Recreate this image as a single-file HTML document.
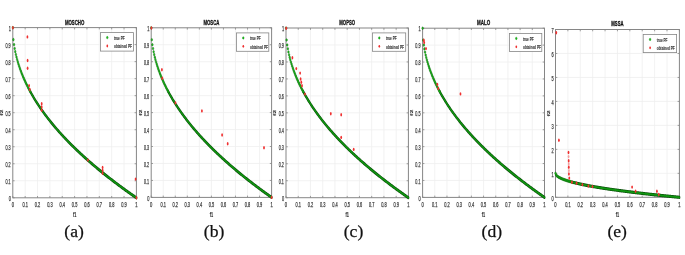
<!DOCTYPE html>
<html><head><meta charset="utf-8"><style>
html,body{margin:0;padding:0;background:#fff;width:685px;height:255px;overflow:hidden}
svg{position:absolute;left:0;top:0;will-change:transform}
svg text{font-family:"Liberation Sans",sans-serif;fill:#3a3a3a}
svg text.t{font-size:6.7px;font-weight:normal;stroke:#3a3a3a;stroke-width:0.25px}
svg text.ti{font-size:7.3px;font-weight:bold;fill:#111;stroke:#111;stroke-width:0.3px}
svg text.xl{font-size:7px;font-weight:bold;stroke:#3a3a3a;stroke-width:0.2px}
svg text.lg{font-size:6px;font-weight:bold;stroke:#3a3a3a;stroke-width:0.15px}
svg text.lab{font-family:"Liberation Serif",serif;font-size:17.6px;fill:#111;stroke:#111;stroke-width:0.25px}
</style></head><body>
<svg width="685" height="255" viewBox="0 0 685 255">
<line x1="25.16" y1="27.60" x2="25.16" y2="197.80" stroke="#efefef" stroke-width="0.8"/>
<line x1="37.52" y1="27.60" x2="37.52" y2="197.80" stroke="#efefef" stroke-width="0.8"/>
<line x1="49.88" y1="27.60" x2="49.88" y2="197.80" stroke="#efefef" stroke-width="0.8"/>
<line x1="62.24" y1="27.60" x2="62.24" y2="197.80" stroke="#efefef" stroke-width="0.8"/>
<line x1="74.60" y1="27.60" x2="74.60" y2="197.80" stroke="#efefef" stroke-width="0.8"/>
<line x1="86.96" y1="27.60" x2="86.96" y2="197.80" stroke="#efefef" stroke-width="0.8"/>
<line x1="99.32" y1="27.60" x2="99.32" y2="197.80" stroke="#efefef" stroke-width="0.8"/>
<line x1="111.68" y1="27.60" x2="111.68" y2="197.80" stroke="#efefef" stroke-width="0.8"/>
<line x1="124.04" y1="27.60" x2="124.04" y2="197.80" stroke="#efefef" stroke-width="0.8"/>
<line x1="12.80" y1="180.78" x2="136.40" y2="180.78" stroke="#efefef" stroke-width="0.8"/>
<line x1="12.80" y1="163.76" x2="136.40" y2="163.76" stroke="#efefef" stroke-width="0.8"/>
<line x1="12.80" y1="146.74" x2="136.40" y2="146.74" stroke="#efefef" stroke-width="0.8"/>
<line x1="12.80" y1="129.72" x2="136.40" y2="129.72" stroke="#efefef" stroke-width="0.8"/>
<line x1="12.80" y1="112.70" x2="136.40" y2="112.70" stroke="#efefef" stroke-width="0.8"/>
<line x1="12.80" y1="95.68" x2="136.40" y2="95.68" stroke="#efefef" stroke-width="0.8"/>
<line x1="12.80" y1="78.66" x2="136.40" y2="78.66" stroke="#efefef" stroke-width="0.8"/>
<line x1="12.80" y1="61.64" x2="136.40" y2="61.64" stroke="#efefef" stroke-width="0.8"/>
<line x1="12.80" y1="44.62" x2="136.40" y2="44.62" stroke="#efefef" stroke-width="0.8"/>
<rect x="12.80" y="27.60" width="123.60" height="170.20" fill="none" stroke="#868686" stroke-width="1"/>
<path d="M12.80 197.80V196.00M12.80 27.60V29.40M25.16 197.80V196.00M25.16 27.60V29.40M37.52 197.80V196.00M37.52 27.60V29.40M49.88 197.80V196.00M49.88 27.60V29.40M62.24 197.80V196.00M62.24 27.60V29.40M74.60 197.80V196.00M74.60 27.60V29.40M86.96 197.80V196.00M86.96 27.60V29.40M99.32 197.80V196.00M99.32 27.60V29.40M111.68 197.80V196.00M111.68 27.60V29.40M124.04 197.80V196.00M124.04 27.60V29.40M136.40 197.80V196.00M136.40 27.60V29.40M12.80 197.80H14.60M136.40 197.80H134.60M12.80 180.78H14.60M136.40 180.78H134.60M12.80 163.76H14.60M136.40 163.76H134.60M12.80 146.74H14.60M136.40 146.74H134.60M12.80 129.72H14.60M136.40 129.72H134.60M12.80 112.70H14.60M136.40 112.70H134.60M12.80 95.68H14.60M136.40 95.68H134.60M12.80 78.66H14.60M136.40 78.66H134.60M12.80 61.64H14.60M136.40 61.64H134.60M12.80 44.62H14.60M136.40 44.62H134.60M12.80 27.60H14.60M136.40 27.60H134.60" stroke="#868686" stroke-width="0.8" fill="none"/>
<g transform="scale(0.6,1)">
<polyline points="50.17,91.28 51.20,92.41 52.23,93.52 53.26,94.61 54.29,95.68 55.32,96.74 56.35,97.78 57.38,98.80 58.41,99.81 59.44,100.81 60.47,101.79 61.50,102.76 62.53,103.72 63.56,104.66 64.59,105.60 65.62,106.52 66.65,107.43 67.68,108.33 68.71,109.23 69.74,110.11 70.77,110.98 71.80,111.84 72.83,112.70 73.86,113.55 74.89,114.39 75.92,115.22 76.95,116.04 77.98,116.85 79.01,117.66 80.04,118.46 81.07,119.26 82.10,120.04 83.13,120.82 84.16,121.60 85.19,122.36 86.22,123.12 87.25,123.88 88.28,124.63 89.31,125.37 90.34,126.11 91.37,126.84 92.40,127.57 93.43,128.29 94.46,129.01 95.49,129.72 96.52,130.43 97.55,131.13 98.58,131.83 99.61,132.52 100.64,133.21 101.67,133.89 102.70,134.57 103.73,135.24 104.76,135.91 105.79,136.58 106.82,137.24 107.85,137.90 108.88,138.56 109.91,139.21 110.94,139.85 111.97,140.50 113.00,141.14 114.03,141.77 115.06,142.41 116.09,143.04 117.12,143.66 118.15,144.28 119.18,144.90 120.21,145.52 121.24,146.13 122.27,146.74 123.30,147.35 124.33,147.95 125.36,148.55 126.39,149.15 127.42,149.74 128.45,150.33 129.48,150.92 130.51,151.51 131.54,152.09 132.57,152.67 133.60,153.25 134.63,153.82 135.66,154.40 136.69,154.97 137.72,155.53 138.75,156.10 139.78,156.66 140.81,157.22 141.84,157.78 142.87,158.33 143.90,158.89 144.93,159.44 145.96,159.98 146.99,160.53 148.02,161.07 149.05,161.62 150.08,162.15 151.11,162.69 152.14,163.23 153.17,163.76 154.20,164.29 155.23,164.82 156.26,165.35 157.29,165.87 158.32,166.39 159.35,166.91 160.38,167.43 161.41,167.95 162.44,168.47 163.47,168.98 164.50,169.49 165.53,170.00 166.56,170.51 167.59,171.01 168.62,171.52 169.65,172.02 170.68,172.52 171.71,173.02 172.74,173.52 173.77,174.01 174.80,174.51 175.83,175.00 176.86,175.49 177.89,175.98 178.92,176.46 179.95,176.95 180.98,177.43 182.01,177.92 183.04,178.40 184.07,178.88 185.10,179.36 186.13,179.83 187.16,180.31 188.19,180.78 189.22,181.25 190.25,181.72 191.28,182.19 192.31,182.66 193.34,183.13 194.37,183.59 195.40,184.05 196.43,184.52 197.46,184.98 198.49,185.44 199.52,185.90 200.55,186.35 201.58,186.81 202.61,187.26 203.64,187.71 204.67,188.17 205.70,188.62 206.73,189.07 207.76,189.51 208.79,189.96 209.82,190.41 210.85,190.85 211.88,191.29 212.91,191.73 213.94,192.18 214.97,192.62 216.00,193.05 217.03,193.49 218.06,193.93 219.09,194.36 220.12,194.79 221.15,195.23 222.18,195.66 223.21,196.09 224.24,196.52 225.27,196.95 226.30,197.37 227.33,197.80" fill="none" stroke="#0a4e0a" stroke-width="3.2" stroke-linejoin="round" stroke-linecap="round"/>
<polyline points="50.17,91.28 51.20,92.41 52.23,93.52 53.26,94.61 54.29,95.68 55.32,96.74 56.35,97.78 57.38,98.80 58.41,99.81 59.44,100.81 60.47,101.79 61.50,102.76 62.53,103.72 63.56,104.66 64.59,105.60 65.62,106.52 66.65,107.43 67.68,108.33 68.71,109.23 69.74,110.11 70.77,110.98 71.80,111.84 72.83,112.70 73.86,113.55 74.89,114.39 75.92,115.22 76.95,116.04 77.98,116.85 79.01,117.66 80.04,118.46 81.07,119.26 82.10,120.04 83.13,120.82 84.16,121.60 85.19,122.36 86.22,123.12 87.25,123.88 88.28,124.63 89.31,125.37 90.34,126.11 91.37,126.84 92.40,127.57 93.43,128.29 94.46,129.01 95.49,129.72 96.52,130.43 97.55,131.13 98.58,131.83 99.61,132.52 100.64,133.21 101.67,133.89 102.70,134.57 103.73,135.24 104.76,135.91 105.79,136.58 106.82,137.24 107.85,137.90 108.88,138.56 109.91,139.21 110.94,139.85 111.97,140.50 113.00,141.14 114.03,141.77 115.06,142.41 116.09,143.04 117.12,143.66 118.15,144.28 119.18,144.90 120.21,145.52 121.24,146.13 122.27,146.74 123.30,147.35 124.33,147.95 125.36,148.55 126.39,149.15 127.42,149.74 128.45,150.33 129.48,150.92 130.51,151.51 131.54,152.09 132.57,152.67 133.60,153.25 134.63,153.82 135.66,154.40 136.69,154.97 137.72,155.53 138.75,156.10 139.78,156.66 140.81,157.22 141.84,157.78 142.87,158.33 143.90,158.89 144.93,159.44 145.96,159.98 146.99,160.53 148.02,161.07 149.05,161.62 150.08,162.15 151.11,162.69 152.14,163.23 153.17,163.76 154.20,164.29 155.23,164.82 156.26,165.35 157.29,165.87 158.32,166.39 159.35,166.91 160.38,167.43 161.41,167.95 162.44,168.47 163.47,168.98 164.50,169.49 165.53,170.00 166.56,170.51 167.59,171.01 168.62,171.52 169.65,172.02 170.68,172.52 171.71,173.02 172.74,173.52 173.77,174.01 174.80,174.51 175.83,175.00 176.86,175.49 177.89,175.98 178.92,176.46 179.95,176.95 180.98,177.43 182.01,177.92 183.04,178.40 184.07,178.88 185.10,179.36 186.13,179.83 187.16,180.31 188.19,180.78 189.22,181.25 190.25,181.72 191.28,182.19 192.31,182.66 193.34,183.13 194.37,183.59 195.40,184.05 196.43,184.52 197.46,184.98 198.49,185.44 199.52,185.90 200.55,186.35 201.58,186.81 202.61,187.26 203.64,187.71 204.67,188.17 205.70,188.62 206.73,189.07 207.76,189.51 208.79,189.96 209.82,190.41 210.85,190.85 211.88,191.29 212.91,191.73 213.94,192.18 214.97,192.62 216.00,193.05 217.03,193.49 218.06,193.93 219.09,194.36 220.12,194.79 221.15,195.23 222.18,195.66 223.21,196.09 224.24,196.52 225.27,196.95 226.30,197.37 227.33,197.80" fill="none" stroke="#109610" stroke-width="1.80" stroke-linejoin="round" stroke-linecap="round"/>
<circle cx="21.33" cy="27.60" r="1.30" fill="#1ccc1c" stroke="#0a500a" stroke-width="0.5"/>
<circle cx="22.36" cy="39.63" r="1.30" fill="#1ccc1c" stroke="#0a500a" stroke-width="0.5"/>
<circle cx="23.39" cy="44.62" r="1.30" fill="#1ccc1c" stroke="#0a500a" stroke-width="0.5"/>
<circle cx="24.42" cy="48.45" r="1.30" fill="#1ccc1c" stroke="#0a500a" stroke-width="0.5"/>
<circle cx="25.45" cy="51.67" r="1.30" fill="#1ccc1c" stroke="#0a500a" stroke-width="0.5"/>
<circle cx="26.48" cy="54.51" r="1.30" fill="#1ccc1c" stroke="#0a500a" stroke-width="0.5"/>
<circle cx="27.51" cy="57.08" r="1.30" fill="#1ccc1c" stroke="#0a500a" stroke-width="0.5"/>
<circle cx="28.54" cy="59.44" r="1.30" fill="#1ccc1c" stroke="#0a500a" stroke-width="0.5"/>
<circle cx="29.57" cy="61.64" r="1.30" fill="#1ccc1c" stroke="#0a500a" stroke-width="0.5"/>
<circle cx="30.60" cy="63.70" r="1.30" fill="#1ccc1c" stroke="#0a500a" stroke-width="0.5"/>
<circle cx="31.63" cy="65.66" r="1.30" fill="#1ccc1c" stroke="#0a500a" stroke-width="0.5"/>
<circle cx="32.66" cy="67.52" r="1.30" fill="#1ccc1c" stroke="#0a500a" stroke-width="0.5"/>
<circle cx="33.69" cy="69.29" r="1.30" fill="#1ccc1c" stroke="#0a500a" stroke-width="0.5"/>
<circle cx="34.72" cy="70.99" r="1.30" fill="#1ccc1c" stroke="#0a500a" stroke-width="0.5"/>
<circle cx="35.75" cy="72.63" r="1.30" fill="#1ccc1c" stroke="#0a500a" stroke-width="0.5"/>
<circle cx="36.78" cy="74.21" r="1.30" fill="#1ccc1c" stroke="#0a500a" stroke-width="0.5"/>
<circle cx="37.81" cy="75.74" r="1.30" fill="#1ccc1c" stroke="#0a500a" stroke-width="0.5"/>
<circle cx="38.84" cy="77.22" r="1.30" fill="#1ccc1c" stroke="#0a500a" stroke-width="0.5"/>
<circle cx="39.87" cy="78.66" r="1.30" fill="#1ccc1c" stroke="#0a500a" stroke-width="0.5"/>
<circle cx="40.90" cy="80.06" r="1.30" fill="#1ccc1c" stroke="#0a500a" stroke-width="0.5"/>
<circle cx="41.93" cy="81.42" r="1.30" fill="#1ccc1c" stroke="#0a500a" stroke-width="0.5"/>
<circle cx="42.96" cy="82.75" r="1.30" fill="#1ccc1c" stroke="#0a500a" stroke-width="0.5"/>
<circle cx="43.99" cy="84.05" r="1.30" fill="#1ccc1c" stroke="#0a500a" stroke-width="0.5"/>
<circle cx="45.02" cy="85.32" r="1.30" fill="#1ccc1c" stroke="#0a500a" stroke-width="0.5"/>
<circle cx="46.05" cy="86.56" r="1.30" fill="#1ccc1c" stroke="#0a500a" stroke-width="0.5"/>
<circle cx="47.08" cy="87.77" r="1.30" fill="#1ccc1c" stroke="#0a500a" stroke-width="0.5"/>
<circle cx="48.11" cy="88.97" r="1.30" fill="#1ccc1c" stroke="#0a500a" stroke-width="0.5"/>
<circle cx="49.14" cy="90.14" r="1.30" fill="#1ccc1c" stroke="#0a500a" stroke-width="0.5"/>
<circle cx="50.17" cy="91.28" r="1.30" fill="#1ccc1c" stroke="#0a500a" stroke-width="0.5"/>
</g>
<ellipse cx="12.90" cy="27.70" rx="0.9" ry="1.7" fill="#f03030" opacity="1"/>
<ellipse cx="27.40" cy="36.90" rx="0.9" ry="1.7" fill="#f03030" opacity="1"/>
<ellipse cx="27.60" cy="60.50" rx="0.9" ry="1.7" fill="#f03030" opacity="1"/>
<ellipse cx="27.60" cy="68.30" rx="0.9" ry="1.7" fill="#f03030" opacity="1"/>
<ellipse cx="29.10" cy="85.60" rx="0.9" ry="1.7" fill="#f03030" opacity="1"/>
<ellipse cx="29.80" cy="89.50" rx="0.9" ry="1.7" fill="#f03030" opacity="1"/>
<ellipse cx="41.70" cy="103.80" rx="0.9" ry="1.7" fill="#f03030" opacity="1"/>
<ellipse cx="41.70" cy="107.00" rx="0.9" ry="1.7" fill="#f03030" opacity="1"/>
<ellipse cx="41.70" cy="110.30" rx="0.9" ry="1.7" fill="#f03030" opacity="1"/>
<ellipse cx="87.90" cy="160.10" rx="0.9" ry="1.7" fill="#f03030" opacity="1"/>
<ellipse cx="102.60" cy="167.40" rx="0.9" ry="1.7" fill="#f03030" opacity="1"/>
<ellipse cx="102.60" cy="170.30" rx="0.9" ry="1.7" fill="#f03030" opacity="1"/>
<ellipse cx="102.60" cy="173.30" rx="0.9" ry="1.7" fill="#f03030" opacity="1"/>
<ellipse cx="135.60" cy="179.10" rx="0.9" ry="1.7" fill="#f03030" opacity="1"/>
<ellipse cx="136.40" cy="197.80" rx="0.9" ry="1.7" fill="#f03030" opacity="1"/>
<text class="t" x="12.80" y="207.40" text-anchor="middle" textLength="2.3" lengthAdjust="spacingAndGlyphs">0</text>
<text class="t" x="25.16" y="207.40" text-anchor="middle" textLength="5.5" lengthAdjust="spacingAndGlyphs">0.1</text>
<text class="t" x="37.52" y="207.40" text-anchor="middle" textLength="5.5" lengthAdjust="spacingAndGlyphs">0.2</text>
<text class="t" x="49.88" y="207.40" text-anchor="middle" textLength="5.5" lengthAdjust="spacingAndGlyphs">0.3</text>
<text class="t" x="62.24" y="207.40" text-anchor="middle" textLength="5.5" lengthAdjust="spacingAndGlyphs">0.4</text>
<text class="t" x="74.60" y="207.40" text-anchor="middle" textLength="5.5" lengthAdjust="spacingAndGlyphs">0.5</text>
<text class="t" x="86.96" y="207.40" text-anchor="middle" textLength="5.5" lengthAdjust="spacingAndGlyphs">0.6</text>
<text class="t" x="99.32" y="207.40" text-anchor="middle" textLength="5.5" lengthAdjust="spacingAndGlyphs">0.7</text>
<text class="t" x="111.68" y="207.40" text-anchor="middle" textLength="5.5" lengthAdjust="spacingAndGlyphs">0.8</text>
<text class="t" x="124.04" y="207.40" text-anchor="middle" textLength="5.5" lengthAdjust="spacingAndGlyphs">0.9</text>
<text class="t" x="136.40" y="207.40" text-anchor="middle" textLength="2.3" lengthAdjust="spacingAndGlyphs">1</text>
<text class="t" x="11.00" y="201.00" text-anchor="end" textLength="2.2" lengthAdjust="spacingAndGlyphs">0</text>
<text class="t" x="10.70" y="183.98" text-anchor="end" textLength="5.2" lengthAdjust="spacingAndGlyphs">0.1</text>
<text class="t" x="10.70" y="166.96" text-anchor="end" textLength="5.2" lengthAdjust="spacingAndGlyphs">0.2</text>
<text class="t" x="10.70" y="149.94" text-anchor="end" textLength="5.2" lengthAdjust="spacingAndGlyphs">0.3</text>
<text class="t" x="10.70" y="132.92" text-anchor="end" textLength="5.2" lengthAdjust="spacingAndGlyphs">0.4</text>
<text class="t" x="10.70" y="115.90" text-anchor="end" textLength="5.2" lengthAdjust="spacingAndGlyphs">0.5</text>
<text class="t" x="10.70" y="98.88" text-anchor="end" textLength="5.2" lengthAdjust="spacingAndGlyphs">0.6</text>
<text class="t" x="10.70" y="81.86" text-anchor="end" textLength="5.2" lengthAdjust="spacingAndGlyphs">0.7</text>
<text class="t" x="10.70" y="64.84" text-anchor="end" textLength="5.2" lengthAdjust="spacingAndGlyphs">0.8</text>
<text class="t" x="10.70" y="47.82" text-anchor="end" textLength="5.2" lengthAdjust="spacingAndGlyphs">0.9</text>
<text class="t" x="11.00" y="30.80" text-anchor="end" textLength="2.2" lengthAdjust="spacingAndGlyphs">1</text>
<text class="ti" x="74.60" y="24.50" text-anchor="middle" textLength="19.4" lengthAdjust="spacingAndGlyphs">MOSCHO</text>
<text class="xl" x="74.60" y="217.00" text-anchor="middle" textLength="3.4" lengthAdjust="spacingAndGlyphs">f1</text>
<text class="xl" transform="translate(3.40,112.70) scale(0.6,1) rotate(-90)" text-anchor="middle">f2</text>
<rect x="100.40" y="32.60" width="33.10" height="18.50" fill="#fff" stroke="#868686" stroke-width="0.8"/>
<ellipse cx="107.30" cy="37.60" rx="0.85" ry="1.25" fill="#1cc81c" stroke="#0a6a0a" stroke-width="0.3"/>
<ellipse cx="107.30" cy="46.00" rx="0.85" ry="1.4" fill="#f03030"/>
<text class="lg" x="114.00" y="40.10" textLength="10.6" lengthAdjust="spacingAndGlyphs">true PF</text>
<text class="lg" x="114.00" y="48.30" textLength="17.9" lengthAdjust="spacingAndGlyphs">obtained PF</text>
<text class="lab" x="74.10" y="237.2" text-anchor="middle">(a)</text>
<line x1="163.24" y1="27.80" x2="163.24" y2="197.40" stroke="#efefef" stroke-width="0.8"/>
<line x1="175.28" y1="27.80" x2="175.28" y2="197.40" stroke="#efefef" stroke-width="0.8"/>
<line x1="187.32" y1="27.80" x2="187.32" y2="197.40" stroke="#efefef" stroke-width="0.8"/>
<line x1="199.36" y1="27.80" x2="199.36" y2="197.40" stroke="#efefef" stroke-width="0.8"/>
<line x1="211.40" y1="27.80" x2="211.40" y2="197.40" stroke="#efefef" stroke-width="0.8"/>
<line x1="223.44" y1="27.80" x2="223.44" y2="197.40" stroke="#efefef" stroke-width="0.8"/>
<line x1="235.48" y1="27.80" x2="235.48" y2="197.40" stroke="#efefef" stroke-width="0.8"/>
<line x1="247.52" y1="27.80" x2="247.52" y2="197.40" stroke="#efefef" stroke-width="0.8"/>
<line x1="259.56" y1="27.80" x2="259.56" y2="197.40" stroke="#efefef" stroke-width="0.8"/>
<line x1="151.20" y1="180.44" x2="271.60" y2="180.44" stroke="#efefef" stroke-width="0.8"/>
<line x1="151.20" y1="163.48" x2="271.60" y2="163.48" stroke="#efefef" stroke-width="0.8"/>
<line x1="151.20" y1="146.52" x2="271.60" y2="146.52" stroke="#efefef" stroke-width="0.8"/>
<line x1="151.20" y1="129.56" x2="271.60" y2="129.56" stroke="#efefef" stroke-width="0.8"/>
<line x1="151.20" y1="112.60" x2="271.60" y2="112.60" stroke="#efefef" stroke-width="0.8"/>
<line x1="151.20" y1="95.64" x2="271.60" y2="95.64" stroke="#efefef" stroke-width="0.8"/>
<line x1="151.20" y1="78.68" x2="271.60" y2="78.68" stroke="#efefef" stroke-width="0.8"/>
<line x1="151.20" y1="61.72" x2="271.60" y2="61.72" stroke="#efefef" stroke-width="0.8"/>
<line x1="151.20" y1="44.76" x2="271.60" y2="44.76" stroke="#efefef" stroke-width="0.8"/>
<rect x="151.20" y="27.80" width="120.40" height="169.60" fill="none" stroke="#868686" stroke-width="1"/>
<path d="M151.20 197.40V195.60M151.20 27.80V29.60M163.24 197.40V195.60M163.24 27.80V29.60M175.28 197.40V195.60M175.28 27.80V29.60M187.32 197.40V195.60M187.32 27.80V29.60M199.36 197.40V195.60M199.36 27.80V29.60M211.40 197.40V195.60M211.40 27.80V29.60M223.44 197.40V195.60M223.44 27.80V29.60M235.48 197.40V195.60M235.48 27.80V29.60M247.52 197.40V195.60M247.52 27.80V29.60M259.56 197.40V195.60M259.56 27.80V29.60M271.60 197.40V195.60M271.60 27.80V29.60M151.20 197.40H153.00M271.60 197.40H269.80M151.20 180.44H153.00M271.60 180.44H269.80M151.20 163.48H153.00M271.60 163.48H269.80M151.20 146.52H153.00M271.60 146.52H269.80M151.20 129.56H153.00M271.60 129.56H269.80M151.20 112.60H153.00M271.60 112.60H269.80M151.20 95.64H153.00M271.60 95.64H269.80M151.20 78.68H153.00M271.60 78.68H269.80M151.20 61.72H153.00M271.60 61.72H269.80M151.20 44.76H153.00M271.60 44.76H269.80M151.20 27.80H153.00M271.60 27.80H269.80" stroke="#868686" stroke-width="0.8" fill="none"/>
<g transform="scale(0.6,1)">
<polyline points="280.09,91.26 281.10,92.38 282.10,93.49 283.10,94.57 284.11,95.64 285.11,96.69 286.11,97.73 287.12,98.75 288.12,99.76 289.12,100.75 290.13,101.73 291.13,102.69 292.13,103.65 293.14,104.59 294.14,105.52 295.14,106.44 296.15,107.35 297.15,108.25 298.15,109.14 299.16,110.02 300.16,110.89 301.16,111.75 302.17,112.60 303.17,113.44 304.17,114.28 305.18,115.11 306.18,115.93 307.18,116.74 308.19,117.54 309.19,118.34 310.19,119.13 311.20,119.92 312.20,120.69 313.20,121.46 314.21,122.23 315.21,122.99 316.21,123.74 317.22,124.49 318.22,125.23 319.22,125.96 320.23,126.69 321.23,127.42 322.23,128.14 323.24,128.85 324.24,129.56 325.24,130.26 326.25,130.96 327.25,131.66 328.25,132.35 329.26,133.03 330.26,133.72 331.26,134.39 332.27,135.06 333.27,135.73 334.27,136.40 335.28,137.06 336.28,137.71 337.28,138.37 338.29,139.01 339.29,139.66 340.29,140.30 341.30,140.94 342.30,141.57 343.30,142.20 344.31,142.83 345.31,143.45 346.31,144.07 347.32,144.69 348.32,145.30 349.32,145.91 350.33,146.52 351.33,147.12 352.33,147.73 353.34,148.32 354.34,148.92 355.34,149.51 356.35,150.10 357.35,150.69 358.35,151.27 359.36,151.85 360.36,152.43 361.36,153.01 362.37,153.58 363.37,154.15 364.37,154.72 365.38,155.28 366.38,155.85 367.38,156.41 368.39,156.96 369.39,157.52 370.39,158.07 371.40,158.62 372.40,159.17 373.40,159.72 374.41,160.26 375.41,160.80 376.41,161.34 377.42,161.88 378.42,162.42 379.42,162.95 380.43,163.48 381.43,164.01 382.43,164.54 383.44,165.06 384.44,165.58 385.44,166.10 386.45,166.62 387.45,167.14 388.45,167.66 389.46,168.17 390.46,168.68 391.46,169.19 392.47,169.70 393.47,170.20 394.47,170.71 395.48,171.21 396.48,171.71 397.48,172.21 398.49,172.71 399.49,173.20 400.49,173.70 401.50,174.19 402.50,174.68 403.50,175.17 404.51,175.65 405.51,176.14 406.51,176.62 407.52,177.11 408.52,177.59 409.52,178.07 410.53,178.54 411.53,179.02 412.53,179.49 413.54,179.97 414.54,180.44 415.54,180.91 416.55,181.38 417.55,181.85 418.55,182.31 419.56,182.78 420.56,183.24 421.56,183.70 422.57,184.16 423.57,184.62 424.57,185.08 425.58,185.54 426.58,185.99 427.58,186.45 428.59,186.90 429.59,187.35 430.59,187.80 431.60,188.25 432.60,188.70 433.60,189.14 434.61,189.59 435.61,190.03 436.61,190.47 437.62,190.92 438.62,191.36 439.62,191.80 440.63,192.23 441.63,192.67 442.63,193.11 443.64,193.54 444.64,193.97 445.64,194.41 446.65,194.84 447.65,195.27 448.65,195.70 449.66,196.12 450.66,196.55 451.66,196.98 452.67,197.40" fill="none" stroke="#0a4e0a" stroke-width="3.2" stroke-linejoin="round" stroke-linecap="round"/>
<polyline points="280.09,91.26 281.10,92.38 282.10,93.49 283.10,94.57 284.11,95.64 285.11,96.69 286.11,97.73 287.12,98.75 288.12,99.76 289.12,100.75 290.13,101.73 291.13,102.69 292.13,103.65 293.14,104.59 294.14,105.52 295.14,106.44 296.15,107.35 297.15,108.25 298.15,109.14 299.16,110.02 300.16,110.89 301.16,111.75 302.17,112.60 303.17,113.44 304.17,114.28 305.18,115.11 306.18,115.93 307.18,116.74 308.19,117.54 309.19,118.34 310.19,119.13 311.20,119.92 312.20,120.69 313.20,121.46 314.21,122.23 315.21,122.99 316.21,123.74 317.22,124.49 318.22,125.23 319.22,125.96 320.23,126.69 321.23,127.42 322.23,128.14 323.24,128.85 324.24,129.56 325.24,130.26 326.25,130.96 327.25,131.66 328.25,132.35 329.26,133.03 330.26,133.72 331.26,134.39 332.27,135.06 333.27,135.73 334.27,136.40 335.28,137.06 336.28,137.71 337.28,138.37 338.29,139.01 339.29,139.66 340.29,140.30 341.30,140.94 342.30,141.57 343.30,142.20 344.31,142.83 345.31,143.45 346.31,144.07 347.32,144.69 348.32,145.30 349.32,145.91 350.33,146.52 351.33,147.12 352.33,147.73 353.34,148.32 354.34,148.92 355.34,149.51 356.35,150.10 357.35,150.69 358.35,151.27 359.36,151.85 360.36,152.43 361.36,153.01 362.37,153.58 363.37,154.15 364.37,154.72 365.38,155.28 366.38,155.85 367.38,156.41 368.39,156.96 369.39,157.52 370.39,158.07 371.40,158.62 372.40,159.17 373.40,159.72 374.41,160.26 375.41,160.80 376.41,161.34 377.42,161.88 378.42,162.42 379.42,162.95 380.43,163.48 381.43,164.01 382.43,164.54 383.44,165.06 384.44,165.58 385.44,166.10 386.45,166.62 387.45,167.14 388.45,167.66 389.46,168.17 390.46,168.68 391.46,169.19 392.47,169.70 393.47,170.20 394.47,170.71 395.48,171.21 396.48,171.71 397.48,172.21 398.49,172.71 399.49,173.20 400.49,173.70 401.50,174.19 402.50,174.68 403.50,175.17 404.51,175.65 405.51,176.14 406.51,176.62 407.52,177.11 408.52,177.59 409.52,178.07 410.53,178.54 411.53,179.02 412.53,179.49 413.54,179.97 414.54,180.44 415.54,180.91 416.55,181.38 417.55,181.85 418.55,182.31 419.56,182.78 420.56,183.24 421.56,183.70 422.57,184.16 423.57,184.62 424.57,185.08 425.58,185.54 426.58,185.99 427.58,186.45 428.59,186.90 429.59,187.35 430.59,187.80 431.60,188.25 432.60,188.70 433.60,189.14 434.61,189.59 435.61,190.03 436.61,190.47 437.62,190.92 438.62,191.36 439.62,191.80 440.63,192.23 441.63,192.67 442.63,193.11 443.64,193.54 444.64,193.97 445.64,194.41 446.65,194.84 447.65,195.27 448.65,195.70 449.66,196.12 450.66,196.55 451.66,196.98 452.67,197.40" fill="none" stroke="#109610" stroke-width="1.80" stroke-linejoin="round" stroke-linecap="round"/>
<circle cx="252.00" cy="27.80" r="1.30" fill="#1ccc1c" stroke="#0a500a" stroke-width="0.5"/>
<circle cx="253.00" cy="39.79" r="1.30" fill="#1ccc1c" stroke="#0a500a" stroke-width="0.5"/>
<circle cx="254.01" cy="44.76" r="1.30" fill="#1ccc1c" stroke="#0a500a" stroke-width="0.5"/>
<circle cx="255.01" cy="48.57" r="1.30" fill="#1ccc1c" stroke="#0a500a" stroke-width="0.5"/>
<circle cx="256.01" cy="51.79" r="1.30" fill="#1ccc1c" stroke="#0a500a" stroke-width="0.5"/>
<circle cx="257.02" cy="54.62" r="1.30" fill="#1ccc1c" stroke="#0a500a" stroke-width="0.5"/>
<circle cx="258.02" cy="57.18" r="1.30" fill="#1ccc1c" stroke="#0a500a" stroke-width="0.5"/>
<circle cx="259.02" cy="59.53" r="1.30" fill="#1ccc1c" stroke="#0a500a" stroke-width="0.5"/>
<circle cx="260.03" cy="61.72" r="1.30" fill="#1ccc1c" stroke="#0a500a" stroke-width="0.5"/>
<circle cx="261.03" cy="63.78" r="1.30" fill="#1ccc1c" stroke="#0a500a" stroke-width="0.5"/>
<circle cx="262.03" cy="65.72" r="1.30" fill="#1ccc1c" stroke="#0a500a" stroke-width="0.5"/>
<circle cx="263.04" cy="67.57" r="1.30" fill="#1ccc1c" stroke="#0a500a" stroke-width="0.5"/>
<circle cx="264.04" cy="69.34" r="1.30" fill="#1ccc1c" stroke="#0a500a" stroke-width="0.5"/>
<circle cx="265.04" cy="71.04" r="1.30" fill="#1ccc1c" stroke="#0a500a" stroke-width="0.5"/>
<circle cx="266.05" cy="72.67" r="1.30" fill="#1ccc1c" stroke="#0a500a" stroke-width="0.5"/>
<circle cx="267.05" cy="74.25" r="1.30" fill="#1ccc1c" stroke="#0a500a" stroke-width="0.5"/>
<circle cx="268.05" cy="75.77" r="1.30" fill="#1ccc1c" stroke="#0a500a" stroke-width="0.5"/>
<circle cx="269.06" cy="77.25" r="1.30" fill="#1ccc1c" stroke="#0a500a" stroke-width="0.5"/>
<circle cx="270.06" cy="78.68" r="1.30" fill="#1ccc1c" stroke="#0a500a" stroke-width="0.5"/>
<circle cx="271.06" cy="80.07" r="1.30" fill="#1ccc1c" stroke="#0a500a" stroke-width="0.5"/>
<circle cx="272.07" cy="81.43" r="1.30" fill="#1ccc1c" stroke="#0a500a" stroke-width="0.5"/>
<circle cx="273.07" cy="82.76" r="1.30" fill="#1ccc1c" stroke="#0a500a" stroke-width="0.5"/>
<circle cx="274.07" cy="84.05" r="1.30" fill="#1ccc1c" stroke="#0a500a" stroke-width="0.5"/>
<circle cx="275.08" cy="85.31" r="1.30" fill="#1ccc1c" stroke="#0a500a" stroke-width="0.5"/>
<circle cx="276.08" cy="86.55" r="1.30" fill="#1ccc1c" stroke="#0a500a" stroke-width="0.5"/>
<circle cx="277.08" cy="87.76" r="1.30" fill="#1ccc1c" stroke="#0a500a" stroke-width="0.5"/>
<circle cx="278.09" cy="88.95" r="1.30" fill="#1ccc1c" stroke="#0a500a" stroke-width="0.5"/>
<circle cx="279.09" cy="90.12" r="1.30" fill="#1ccc1c" stroke="#0a500a" stroke-width="0.5"/>
<circle cx="280.09" cy="91.26" r="1.30" fill="#1ccc1c" stroke="#0a500a" stroke-width="0.5"/>
</g>
<ellipse cx="151.40" cy="28.00" rx="0.9" ry="1.7" fill="#f03030" opacity="1"/>
<ellipse cx="161.90" cy="69.70" rx="0.9" ry="1.7" fill="#f03030" opacity="1"/>
<ellipse cx="162.30" cy="78.30" rx="0.9" ry="1.7" fill="#f03030" opacity="1"/>
<ellipse cx="175.50" cy="102.90" rx="0.9" ry="1.7" fill="#f03030" opacity="1"/>
<ellipse cx="201.90" cy="110.90" rx="0.9" ry="1.7" fill="#f03030" opacity="1"/>
<ellipse cx="222.10" cy="135.00" rx="0.9" ry="1.7" fill="#f03030" opacity="1"/>
<ellipse cx="227.70" cy="143.80" rx="0.9" ry="1.7" fill="#f03030" opacity="1"/>
<ellipse cx="264.00" cy="147.70" rx="0.9" ry="1.7" fill="#f03030" opacity="1"/>
<ellipse cx="271.60" cy="197.40" rx="0.9" ry="1.7" fill="#f03030" opacity="1"/>
<text class="t" x="151.20" y="207.00" text-anchor="middle" textLength="2.3" lengthAdjust="spacingAndGlyphs">0</text>
<text class="t" x="163.24" y="207.00" text-anchor="middle" textLength="5.5" lengthAdjust="spacingAndGlyphs">0.1</text>
<text class="t" x="175.28" y="207.00" text-anchor="middle" textLength="5.5" lengthAdjust="spacingAndGlyphs">0.2</text>
<text class="t" x="187.32" y="207.00" text-anchor="middle" textLength="5.5" lengthAdjust="spacingAndGlyphs">0.3</text>
<text class="t" x="199.36" y="207.00" text-anchor="middle" textLength="5.5" lengthAdjust="spacingAndGlyphs">0.4</text>
<text class="t" x="211.40" y="207.00" text-anchor="middle" textLength="5.5" lengthAdjust="spacingAndGlyphs">0.5</text>
<text class="t" x="223.44" y="207.00" text-anchor="middle" textLength="5.5" lengthAdjust="spacingAndGlyphs">0.6</text>
<text class="t" x="235.48" y="207.00" text-anchor="middle" textLength="5.5" lengthAdjust="spacingAndGlyphs">0.7</text>
<text class="t" x="247.52" y="207.00" text-anchor="middle" textLength="5.5" lengthAdjust="spacingAndGlyphs">0.8</text>
<text class="t" x="259.56" y="207.00" text-anchor="middle" textLength="5.5" lengthAdjust="spacingAndGlyphs">0.9</text>
<text class="t" x="271.60" y="207.00" text-anchor="middle" textLength="2.3" lengthAdjust="spacingAndGlyphs">1</text>
<text class="t" x="149.40" y="200.60" text-anchor="end" textLength="2.2" lengthAdjust="spacingAndGlyphs">0</text>
<text class="t" x="149.10" y="183.64" text-anchor="end" textLength="5.2" lengthAdjust="spacingAndGlyphs">0.1</text>
<text class="t" x="149.10" y="166.68" text-anchor="end" textLength="5.2" lengthAdjust="spacingAndGlyphs">0.2</text>
<text class="t" x="149.10" y="149.72" text-anchor="end" textLength="5.2" lengthAdjust="spacingAndGlyphs">0.3</text>
<text class="t" x="149.10" y="132.76" text-anchor="end" textLength="5.2" lengthAdjust="spacingAndGlyphs">0.4</text>
<text class="t" x="149.10" y="115.80" text-anchor="end" textLength="5.2" lengthAdjust="spacingAndGlyphs">0.5</text>
<text class="t" x="149.10" y="98.84" text-anchor="end" textLength="5.2" lengthAdjust="spacingAndGlyphs">0.6</text>
<text class="t" x="149.10" y="81.88" text-anchor="end" textLength="5.2" lengthAdjust="spacingAndGlyphs">0.7</text>
<text class="t" x="149.10" y="64.92" text-anchor="end" textLength="5.2" lengthAdjust="spacingAndGlyphs">0.8</text>
<text class="t" x="149.10" y="47.96" text-anchor="end" textLength="5.2" lengthAdjust="spacingAndGlyphs">0.9</text>
<text class="t" x="149.40" y="31.00" text-anchor="end" textLength="2.2" lengthAdjust="spacingAndGlyphs">1</text>
<text class="ti" x="211.40" y="24.70" text-anchor="middle" textLength="16.0" lengthAdjust="spacingAndGlyphs">MOSCA</text>
<text class="xl" x="211.40" y="216.60" text-anchor="middle" textLength="3.4" lengthAdjust="spacingAndGlyphs">f1</text>
<text class="xl" transform="translate(141.50,112.60) scale(0.6,1) rotate(-90)" text-anchor="middle">f2</text>
<rect x="236.40" y="32.90" width="32.40" height="18.40" fill="#fff" stroke="#868686" stroke-width="0.8"/>
<ellipse cx="243.30" cy="37.90" rx="0.85" ry="1.25" fill="#1cc81c" stroke="#0a6a0a" stroke-width="0.3"/>
<ellipse cx="243.30" cy="46.30" rx="0.85" ry="1.4" fill="#f03030"/>
<text class="lg" x="250.00" y="40.40" textLength="10.6" lengthAdjust="spacingAndGlyphs">true PF</text>
<text class="lg" x="250.00" y="48.60" textLength="17.9" lengthAdjust="spacingAndGlyphs">obtained PF</text>
<text class="lab" x="214.10" y="237.2" text-anchor="middle">(b)</text>
<line x1="298.24" y1="28.00" x2="298.24" y2="197.70" stroke="#efefef" stroke-width="0.8"/>
<line x1="310.48" y1="28.00" x2="310.48" y2="197.70" stroke="#efefef" stroke-width="0.8"/>
<line x1="322.72" y1="28.00" x2="322.72" y2="197.70" stroke="#efefef" stroke-width="0.8"/>
<line x1="334.96" y1="28.00" x2="334.96" y2="197.70" stroke="#efefef" stroke-width="0.8"/>
<line x1="347.20" y1="28.00" x2="347.20" y2="197.70" stroke="#efefef" stroke-width="0.8"/>
<line x1="359.44" y1="28.00" x2="359.44" y2="197.70" stroke="#efefef" stroke-width="0.8"/>
<line x1="371.68" y1="28.00" x2="371.68" y2="197.70" stroke="#efefef" stroke-width="0.8"/>
<line x1="383.92" y1="28.00" x2="383.92" y2="197.70" stroke="#efefef" stroke-width="0.8"/>
<line x1="396.16" y1="28.00" x2="396.16" y2="197.70" stroke="#efefef" stroke-width="0.8"/>
<line x1="286.00" y1="180.73" x2="408.40" y2="180.73" stroke="#efefef" stroke-width="0.8"/>
<line x1="286.00" y1="163.76" x2="408.40" y2="163.76" stroke="#efefef" stroke-width="0.8"/>
<line x1="286.00" y1="146.79" x2="408.40" y2="146.79" stroke="#efefef" stroke-width="0.8"/>
<line x1="286.00" y1="129.82" x2="408.40" y2="129.82" stroke="#efefef" stroke-width="0.8"/>
<line x1="286.00" y1="112.85" x2="408.40" y2="112.85" stroke="#efefef" stroke-width="0.8"/>
<line x1="286.00" y1="95.88" x2="408.40" y2="95.88" stroke="#efefef" stroke-width="0.8"/>
<line x1="286.00" y1="78.91" x2="408.40" y2="78.91" stroke="#efefef" stroke-width="0.8"/>
<line x1="286.00" y1="61.94" x2="408.40" y2="61.94" stroke="#efefef" stroke-width="0.8"/>
<line x1="286.00" y1="44.97" x2="408.40" y2="44.97" stroke="#efefef" stroke-width="0.8"/>
<rect x="286.00" y="28.00" width="122.40" height="169.70" fill="none" stroke="#868686" stroke-width="1"/>
<path d="M286.00 197.70V195.90M286.00 28.00V29.80M298.24 197.70V195.90M298.24 28.00V29.80M310.48 197.70V195.90M310.48 28.00V29.80M322.72 197.70V195.90M322.72 28.00V29.80M334.96 197.70V195.90M334.96 28.00V29.80M347.20 197.70V195.90M347.20 28.00V29.80M359.44 197.70V195.90M359.44 28.00V29.80M371.68 197.70V195.90M371.68 28.00V29.80M383.92 197.70V195.90M383.92 28.00V29.80M396.16 197.70V195.90M396.16 28.00V29.80M408.40 197.70V195.90M408.40 28.00V29.80M286.00 197.70H287.80M408.40 197.70H406.60M286.00 180.73H287.80M408.40 180.73H406.60M286.00 163.76H287.80M408.40 163.76H406.60M286.00 146.79H287.80M408.40 146.79H406.60M286.00 129.82H287.80M408.40 129.82H406.60M286.00 112.85H287.80M408.40 112.85H406.60M286.00 95.88H287.80M408.40 95.88H406.60M286.00 78.91H287.80M408.40 78.91H406.60M286.00 61.94H287.80M408.40 61.94H406.60M286.00 44.97H287.80M408.40 44.97H406.60M286.00 28.00H287.80M408.40 28.00H406.60" stroke="#868686" stroke-width="0.8" fill="none"/>
<g transform="scale(0.6,1)">
<polyline points="505.23,91.50 506.25,92.62 507.27,93.72 508.29,94.81 509.31,95.88 510.33,96.93 511.35,97.97 512.37,98.99 513.39,100.00 514.41,100.99 515.43,101.97 516.45,102.94 517.47,103.89 518.49,104.83 519.51,105.77 520.53,106.69 521.55,107.60 522.57,108.50 523.59,109.39 524.61,110.27 525.63,111.14 526.65,112.00 527.67,112.85 528.69,113.69 529.71,114.53 530.73,115.36 531.75,116.18 532.77,116.99 533.79,117.80 534.81,118.60 535.83,119.39 536.85,120.17 537.87,120.95 538.89,121.72 539.91,122.48 540.93,123.24 541.95,124.00 542.97,124.74 543.99,125.49 545.01,126.22 546.03,126.95 547.05,127.68 548.07,128.40 549.09,129.11 550.11,129.82 551.13,130.52 552.15,131.22 553.17,131.92 554.19,132.61 555.21,133.30 556.23,133.98 557.25,134.65 558.27,135.33 559.29,136.00 560.31,136.66 561.33,137.32 562.35,137.98 563.37,138.63 564.39,139.28 565.41,139.92 566.43,140.57 567.45,141.20 568.47,141.84 569.49,142.47 570.51,143.10 571.53,143.72 572.55,144.34 573.57,144.96 574.59,145.57 575.61,146.18 576.63,146.79 577.65,147.39 578.67,148.00 579.69,148.59 580.71,149.19 581.73,149.78 582.75,150.37 583.77,150.96 584.79,151.54 585.81,152.12 586.83,152.70 587.85,153.28 588.87,153.85 589.89,154.42 590.91,154.99 591.93,155.56 592.95,156.12 593.97,156.68 594.99,157.24 596.01,157.80 597.03,158.35 598.05,158.90 599.07,159.45 600.09,160.00 601.11,160.54 602.13,161.08 603.15,161.62 604.17,162.16 605.19,162.70 606.21,163.23 607.23,163.76 608.25,164.29 609.27,164.82 610.29,165.34 611.31,165.86 612.33,166.39 613.35,166.91 614.37,167.42 615.39,167.94 616.41,168.45 617.43,168.96 618.45,169.47 619.47,169.98 620.49,170.49 621.51,170.99 622.53,171.49 623.55,172.00 624.57,172.49 625.59,172.99 626.61,173.49 627.63,173.98 628.65,174.47 629.67,174.96 630.69,175.45 631.71,175.94 632.73,176.43 633.75,176.91 634.77,177.39 635.79,177.87 636.81,178.35 637.83,178.83 638.85,179.31 639.87,179.78 640.89,180.26 641.91,180.73 642.93,181.20 643.95,181.67 644.97,182.14 645.99,182.60 647.01,183.07 648.03,183.53 649.05,183.99 650.07,184.46 651.09,184.92 652.11,185.37 653.13,185.83 654.15,186.29 655.17,186.74 656.19,187.19 657.21,187.64 658.23,188.09 659.25,188.54 660.27,188.99 661.29,189.44 662.31,189.88 663.33,190.33 664.35,190.77 665.37,191.21 666.39,191.65 667.41,192.09 668.43,192.53 669.45,192.97 670.47,193.40 671.49,193.84 672.51,194.27 673.53,194.70 674.55,195.14 675.57,195.57 676.59,195.99 677.61,196.42 678.63,196.85 679.65,197.28 680.67,197.70" fill="none" stroke="#0a4e0a" stroke-width="3.2" stroke-linejoin="round" stroke-linecap="round"/>
<polyline points="505.23,91.50 506.25,92.62 507.27,93.72 508.29,94.81 509.31,95.88 510.33,96.93 511.35,97.97 512.37,98.99 513.39,100.00 514.41,100.99 515.43,101.97 516.45,102.94 517.47,103.89 518.49,104.83 519.51,105.77 520.53,106.69 521.55,107.60 522.57,108.50 523.59,109.39 524.61,110.27 525.63,111.14 526.65,112.00 527.67,112.85 528.69,113.69 529.71,114.53 530.73,115.36 531.75,116.18 532.77,116.99 533.79,117.80 534.81,118.60 535.83,119.39 536.85,120.17 537.87,120.95 538.89,121.72 539.91,122.48 540.93,123.24 541.95,124.00 542.97,124.74 543.99,125.49 545.01,126.22 546.03,126.95 547.05,127.68 548.07,128.40 549.09,129.11 550.11,129.82 551.13,130.52 552.15,131.22 553.17,131.92 554.19,132.61 555.21,133.30 556.23,133.98 557.25,134.65 558.27,135.33 559.29,136.00 560.31,136.66 561.33,137.32 562.35,137.98 563.37,138.63 564.39,139.28 565.41,139.92 566.43,140.57 567.45,141.20 568.47,141.84 569.49,142.47 570.51,143.10 571.53,143.72 572.55,144.34 573.57,144.96 574.59,145.57 575.61,146.18 576.63,146.79 577.65,147.39 578.67,148.00 579.69,148.59 580.71,149.19 581.73,149.78 582.75,150.37 583.77,150.96 584.79,151.54 585.81,152.12 586.83,152.70 587.85,153.28 588.87,153.85 589.89,154.42 590.91,154.99 591.93,155.56 592.95,156.12 593.97,156.68 594.99,157.24 596.01,157.80 597.03,158.35 598.05,158.90 599.07,159.45 600.09,160.00 601.11,160.54 602.13,161.08 603.15,161.62 604.17,162.16 605.19,162.70 606.21,163.23 607.23,163.76 608.25,164.29 609.27,164.82 610.29,165.34 611.31,165.86 612.33,166.39 613.35,166.91 614.37,167.42 615.39,167.94 616.41,168.45 617.43,168.96 618.45,169.47 619.47,169.98 620.49,170.49 621.51,170.99 622.53,171.49 623.55,172.00 624.57,172.49 625.59,172.99 626.61,173.49 627.63,173.98 628.65,174.47 629.67,174.96 630.69,175.45 631.71,175.94 632.73,176.43 633.75,176.91 634.77,177.39 635.79,177.87 636.81,178.35 637.83,178.83 638.85,179.31 639.87,179.78 640.89,180.26 641.91,180.73 642.93,181.20 643.95,181.67 644.97,182.14 645.99,182.60 647.01,183.07 648.03,183.53 649.05,183.99 650.07,184.46 651.09,184.92 652.11,185.37 653.13,185.83 654.15,186.29 655.17,186.74 656.19,187.19 657.21,187.64 658.23,188.09 659.25,188.54 660.27,188.99 661.29,189.44 662.31,189.88 663.33,190.33 664.35,190.77 665.37,191.21 666.39,191.65 667.41,192.09 668.43,192.53 669.45,192.97 670.47,193.40 671.49,193.84 672.51,194.27 673.53,194.70 674.55,195.14 675.57,195.57 676.59,195.99 677.61,196.42 678.63,196.85 679.65,197.28 680.67,197.70" fill="none" stroke="#109610" stroke-width="1.80" stroke-linejoin="round" stroke-linecap="round"/>
<circle cx="476.67" cy="28.00" r="1.30" fill="#1ccc1c" stroke="#0a500a" stroke-width="0.5"/>
<circle cx="477.69" cy="40.00" r="1.30" fill="#1ccc1c" stroke="#0a500a" stroke-width="0.5"/>
<circle cx="478.71" cy="44.97" r="1.30" fill="#1ccc1c" stroke="#0a500a" stroke-width="0.5"/>
<circle cx="479.73" cy="48.78" r="1.30" fill="#1ccc1c" stroke="#0a500a" stroke-width="0.5"/>
<circle cx="480.75" cy="52.00" r="1.30" fill="#1ccc1c" stroke="#0a500a" stroke-width="0.5"/>
<circle cx="481.77" cy="54.83" r="1.30" fill="#1ccc1c" stroke="#0a500a" stroke-width="0.5"/>
<circle cx="482.79" cy="57.39" r="1.30" fill="#1ccc1c" stroke="#0a500a" stroke-width="0.5"/>
<circle cx="483.81" cy="59.75" r="1.30" fill="#1ccc1c" stroke="#0a500a" stroke-width="0.5"/>
<circle cx="484.83" cy="61.94" r="1.30" fill="#1ccc1c" stroke="#0a500a" stroke-width="0.5"/>
<circle cx="485.85" cy="64.00" r="1.30" fill="#1ccc1c" stroke="#0a500a" stroke-width="0.5"/>
<circle cx="486.87" cy="65.95" r="1.30" fill="#1ccc1c" stroke="#0a500a" stroke-width="0.5"/>
<circle cx="487.89" cy="67.80" r="1.30" fill="#1ccc1c" stroke="#0a500a" stroke-width="0.5"/>
<circle cx="488.91" cy="69.57" r="1.30" fill="#1ccc1c" stroke="#0a500a" stroke-width="0.5"/>
<circle cx="489.93" cy="71.27" r="1.30" fill="#1ccc1c" stroke="#0a500a" stroke-width="0.5"/>
<circle cx="490.95" cy="72.90" r="1.30" fill="#1ccc1c" stroke="#0a500a" stroke-width="0.5"/>
<circle cx="491.97" cy="74.47" r="1.30" fill="#1ccc1c" stroke="#0a500a" stroke-width="0.5"/>
<circle cx="492.99" cy="76.00" r="1.30" fill="#1ccc1c" stroke="#0a500a" stroke-width="0.5"/>
<circle cx="494.01" cy="77.48" r="1.30" fill="#1ccc1c" stroke="#0a500a" stroke-width="0.5"/>
<circle cx="495.03" cy="78.91" r="1.30" fill="#1ccc1c" stroke="#0a500a" stroke-width="0.5"/>
<circle cx="496.05" cy="80.31" r="1.30" fill="#1ccc1c" stroke="#0a500a" stroke-width="0.5"/>
<circle cx="497.07" cy="81.66" r="1.30" fill="#1ccc1c" stroke="#0a500a" stroke-width="0.5"/>
<circle cx="498.09" cy="82.99" r="1.30" fill="#1ccc1c" stroke="#0a500a" stroke-width="0.5"/>
<circle cx="499.11" cy="84.28" r="1.30" fill="#1ccc1c" stroke="#0a500a" stroke-width="0.5"/>
<circle cx="500.13" cy="85.55" r="1.30" fill="#1ccc1c" stroke="#0a500a" stroke-width="0.5"/>
<circle cx="501.15" cy="86.79" r="1.30" fill="#1ccc1c" stroke="#0a500a" stroke-width="0.5"/>
<circle cx="502.17" cy="88.00" r="1.30" fill="#1ccc1c" stroke="#0a500a" stroke-width="0.5"/>
<circle cx="503.19" cy="89.19" r="1.30" fill="#1ccc1c" stroke="#0a500a" stroke-width="0.5"/>
<circle cx="504.21" cy="90.35" r="1.30" fill="#1ccc1c" stroke="#0a500a" stroke-width="0.5"/>
<circle cx="505.23" cy="91.50" r="1.30" fill="#1ccc1c" stroke="#0a500a" stroke-width="0.5"/>
</g>
<ellipse cx="286.20" cy="28.20" rx="0.9" ry="1.7" fill="#f03030" opacity="1"/>
<ellipse cx="292.40" cy="57.80" rx="0.9" ry="1.7" fill="#f03030" opacity="1"/>
<ellipse cx="296.30" cy="68.60" rx="0.9" ry="1.7" fill="#f03030" opacity="1"/>
<ellipse cx="300.10" cy="73.10" rx="0.9" ry="1.7" fill="#f03030" opacity="1"/>
<ellipse cx="300.60" cy="79.00" rx="0.9" ry="1.7" fill="#f03030" opacity="1"/>
<ellipse cx="301.30" cy="82.30" rx="0.9" ry="1.7" fill="#f03030" opacity="1"/>
<ellipse cx="302.00" cy="85.70" rx="0.9" ry="1.7" fill="#f03030" opacity="1"/>
<ellipse cx="305.00" cy="94.10" rx="0.9" ry="1.7" fill="#f03030" opacity="1"/>
<ellipse cx="330.80" cy="113.80" rx="0.9" ry="1.7" fill="#f03030" opacity="1"/>
<ellipse cx="341.20" cy="114.80" rx="0.9" ry="1.7" fill="#f03030" opacity="1"/>
<ellipse cx="341.20" cy="137.40" rx="0.9" ry="1.7" fill="#f03030" opacity="1"/>
<ellipse cx="353.70" cy="149.40" rx="0.9" ry="1.7" fill="#f03030" opacity="1"/>
<text class="t" x="286.00" y="207.30" text-anchor="middle" textLength="2.3" lengthAdjust="spacingAndGlyphs">0</text>
<text class="t" x="298.24" y="207.30" text-anchor="middle" textLength="5.5" lengthAdjust="spacingAndGlyphs">0.1</text>
<text class="t" x="310.48" y="207.30" text-anchor="middle" textLength="5.5" lengthAdjust="spacingAndGlyphs">0.2</text>
<text class="t" x="322.72" y="207.30" text-anchor="middle" textLength="5.5" lengthAdjust="spacingAndGlyphs">0.3</text>
<text class="t" x="334.96" y="207.30" text-anchor="middle" textLength="5.5" lengthAdjust="spacingAndGlyphs">0.4</text>
<text class="t" x="347.20" y="207.30" text-anchor="middle" textLength="5.5" lengthAdjust="spacingAndGlyphs">0.5</text>
<text class="t" x="359.44" y="207.30" text-anchor="middle" textLength="5.5" lengthAdjust="spacingAndGlyphs">0.6</text>
<text class="t" x="371.68" y="207.30" text-anchor="middle" textLength="5.5" lengthAdjust="spacingAndGlyphs">0.7</text>
<text class="t" x="383.92" y="207.30" text-anchor="middle" textLength="5.5" lengthAdjust="spacingAndGlyphs">0.8</text>
<text class="t" x="396.16" y="207.30" text-anchor="middle" textLength="5.5" lengthAdjust="spacingAndGlyphs">0.9</text>
<text class="t" x="408.40" y="207.30" text-anchor="middle" textLength="2.3" lengthAdjust="spacingAndGlyphs">1</text>
<text class="t" x="284.20" y="200.90" text-anchor="end" textLength="2.2" lengthAdjust="spacingAndGlyphs">0</text>
<text class="t" x="283.90" y="183.93" text-anchor="end" textLength="5.2" lengthAdjust="spacingAndGlyphs">0.1</text>
<text class="t" x="283.90" y="166.96" text-anchor="end" textLength="5.2" lengthAdjust="spacingAndGlyphs">0.2</text>
<text class="t" x="283.90" y="149.99" text-anchor="end" textLength="5.2" lengthAdjust="spacingAndGlyphs">0.3</text>
<text class="t" x="283.90" y="133.02" text-anchor="end" textLength="5.2" lengthAdjust="spacingAndGlyphs">0.4</text>
<text class="t" x="283.90" y="116.05" text-anchor="end" textLength="5.2" lengthAdjust="spacingAndGlyphs">0.5</text>
<text class="t" x="283.90" y="99.08" text-anchor="end" textLength="5.2" lengthAdjust="spacingAndGlyphs">0.6</text>
<text class="t" x="283.90" y="82.11" text-anchor="end" textLength="5.2" lengthAdjust="spacingAndGlyphs">0.7</text>
<text class="t" x="283.90" y="65.14" text-anchor="end" textLength="5.2" lengthAdjust="spacingAndGlyphs">0.8</text>
<text class="t" x="283.90" y="48.17" text-anchor="end" textLength="5.2" lengthAdjust="spacingAndGlyphs">0.9</text>
<text class="t" x="284.20" y="31.20" text-anchor="end" textLength="2.2" lengthAdjust="spacingAndGlyphs">1</text>
<text class="ti" x="347.20" y="24.90" text-anchor="middle" textLength="15.8" lengthAdjust="spacingAndGlyphs">MOPSO</text>
<text class="xl" x="347.20" y="216.90" text-anchor="middle" textLength="3.4" lengthAdjust="spacingAndGlyphs">f1</text>
<text class="xl" transform="translate(276.20,112.85) scale(0.6,1) rotate(-90)" text-anchor="middle">f2</text>
<rect x="372.40" y="32.90" width="33.30" height="18.40" fill="#fff" stroke="#868686" stroke-width="0.8"/>
<ellipse cx="379.30" cy="37.90" rx="0.85" ry="1.25" fill="#1cc81c" stroke="#0a6a0a" stroke-width="0.3"/>
<ellipse cx="379.30" cy="46.30" rx="0.85" ry="1.4" fill="#f03030"/>
<text class="lg" x="386.00" y="40.40" textLength="10.6" lengthAdjust="spacingAndGlyphs">true PF</text>
<text class="lg" x="386.00" y="48.60" textLength="17.9" lengthAdjust="spacingAndGlyphs">obtained PF</text>
<text class="lab" x="353.50" y="237.2" text-anchor="middle">(c)</text>
<line x1="434.79" y1="28.20" x2="434.79" y2="197.40" stroke="#efefef" stroke-width="0.8"/>
<line x1="446.98" y1="28.20" x2="446.98" y2="197.40" stroke="#efefef" stroke-width="0.8"/>
<line x1="459.17" y1="28.20" x2="459.17" y2="197.40" stroke="#efefef" stroke-width="0.8"/>
<line x1="471.36" y1="28.20" x2="471.36" y2="197.40" stroke="#efefef" stroke-width="0.8"/>
<line x1="483.55" y1="28.20" x2="483.55" y2="197.40" stroke="#efefef" stroke-width="0.8"/>
<line x1="495.74" y1="28.20" x2="495.74" y2="197.40" stroke="#efefef" stroke-width="0.8"/>
<line x1="507.93" y1="28.20" x2="507.93" y2="197.40" stroke="#efefef" stroke-width="0.8"/>
<line x1="520.12" y1="28.20" x2="520.12" y2="197.40" stroke="#efefef" stroke-width="0.8"/>
<line x1="532.31" y1="28.20" x2="532.31" y2="197.40" stroke="#efefef" stroke-width="0.8"/>
<line x1="422.60" y1="180.48" x2="544.50" y2="180.48" stroke="#efefef" stroke-width="0.8"/>
<line x1="422.60" y1="163.56" x2="544.50" y2="163.56" stroke="#efefef" stroke-width="0.8"/>
<line x1="422.60" y1="146.64" x2="544.50" y2="146.64" stroke="#efefef" stroke-width="0.8"/>
<line x1="422.60" y1="129.72" x2="544.50" y2="129.72" stroke="#efefef" stroke-width="0.8"/>
<line x1="422.60" y1="112.80" x2="544.50" y2="112.80" stroke="#efefef" stroke-width="0.8"/>
<line x1="422.60" y1="95.88" x2="544.50" y2="95.88" stroke="#efefef" stroke-width="0.8"/>
<line x1="422.60" y1="78.96" x2="544.50" y2="78.96" stroke="#efefef" stroke-width="0.8"/>
<line x1="422.60" y1="62.04" x2="544.50" y2="62.04" stroke="#efefef" stroke-width="0.8"/>
<line x1="422.60" y1="45.12" x2="544.50" y2="45.12" stroke="#efefef" stroke-width="0.8"/>
<rect x="422.60" y="28.20" width="121.90" height="169.20" fill="none" stroke="#868686" stroke-width="1"/>
<path d="M422.60 197.40V195.60M422.60 28.20V30.00M434.79 197.40V195.60M434.79 28.20V30.00M446.98 197.40V195.60M446.98 28.20V30.00M459.17 197.40V195.60M459.17 28.20V30.00M471.36 197.40V195.60M471.36 28.20V30.00M483.55 197.40V195.60M483.55 28.20V30.00M495.74 197.40V195.60M495.74 28.20V30.00M507.93 197.40V195.60M507.93 28.20V30.00M520.12 197.40V195.60M520.12 28.20V30.00M532.31 197.40V195.60M532.31 28.20V30.00M544.50 197.40V195.60M544.50 28.20V30.00M422.60 197.40H424.40M544.50 197.40H542.70M422.60 180.48H424.40M544.50 180.48H542.70M422.60 163.56H424.40M544.50 163.56H542.70M422.60 146.64H424.40M544.50 146.64H542.70M422.60 129.72H424.40M544.50 129.72H542.70M422.60 112.80H424.40M544.50 112.80H542.70M422.60 95.88H424.40M544.50 95.88H542.70M422.60 78.96H424.40M544.50 78.96H542.70M422.60 62.04H424.40M544.50 62.04H542.70M422.60 45.12H424.40M544.50 45.12H542.70M422.60 28.20H424.40M544.50 28.20H542.70" stroke="#868686" stroke-width="0.8" fill="none"/>
<g transform="scale(0.6,1)">
<polyline points="732.78,91.51 733.79,92.63 734.81,93.73 735.82,94.81 736.84,95.88 737.86,96.93 738.87,97.96 739.89,98.98 740.90,99.99 741.92,100.98 742.94,101.95 743.95,102.92 744.97,103.87 745.98,104.81 747.00,105.74 748.01,106.65 749.03,107.56 750.05,108.46 751.06,109.35 752.08,110.22 753.09,111.09 754.11,111.95 755.13,112.80 756.14,113.64 757.16,114.48 758.17,115.30 759.19,116.12 760.20,116.93 761.22,117.73 762.24,118.53 763.25,119.32 764.27,120.10 765.28,120.87 766.30,121.64 767.32,122.41 768.33,123.16 769.35,123.91 770.36,124.66 771.38,125.40 772.39,126.13 773.41,126.86 774.43,127.58 775.44,128.30 776.46,129.01 777.47,129.72 778.49,130.42 779.51,131.12 780.52,131.81 781.54,132.50 782.55,133.19 783.57,133.87 784.58,134.54 785.60,135.21 786.62,135.88 787.63,136.54 788.65,137.20 789.66,137.85 790.68,138.50 791.70,139.15 792.71,139.80 793.73,140.43 794.74,141.07 795.76,141.70 796.77,142.33 797.79,142.96 798.81,143.58 799.82,144.20 800.84,144.81 801.85,145.43 802.87,146.03 803.89,146.64 804.90,147.24 805.92,147.84 806.93,148.44 807.95,149.03 808.96,149.62 809.98,150.21 811.00,150.80 812.01,151.38 813.03,151.96 814.04,152.54 815.06,153.11 816.08,153.68 817.09,154.25 818.11,154.82 819.12,155.38 820.14,155.94 821.15,156.50 822.17,157.06 823.19,157.61 824.20,158.16 825.22,158.71 826.23,159.26 827.25,159.81 828.26,160.35 829.28,160.89 830.30,161.43 831.31,161.96 832.33,162.50 833.34,163.03 834.36,163.56 835.38,164.09 836.39,164.61 837.41,165.14 838.42,165.66 839.44,166.18 840.46,166.70 841.47,167.21 842.49,167.73 843.50,168.24 844.52,168.75 845.53,169.26 846.55,169.76 847.57,170.27 848.58,170.77 849.60,171.27 850.61,171.77 851.63,172.27 852.64,172.76 853.66,173.26 854.68,173.75 855.69,174.24 856.71,174.73 857.72,175.22 858.74,175.71 859.76,176.19 860.77,176.67 861.79,177.15 862.80,177.63 863.82,178.11 864.84,178.59 865.85,179.06 866.87,179.54 867.88,180.01 868.90,180.48 869.91,180.95 870.93,181.42 871.95,181.88 872.96,182.35 873.98,182.81 874.99,183.27 876.01,183.74 877.03,184.19 878.04,184.65 879.06,185.11 880.07,185.57 881.09,186.02 882.10,186.47 883.12,186.92 884.14,187.37 885.15,187.82 886.17,188.27 887.18,188.72 888.20,189.16 889.22,189.61 890.23,190.05 891.25,190.49 892.26,190.93 893.28,191.37 894.29,191.81 895.31,192.25 896.33,192.68 897.34,193.12 898.36,193.55 899.37,193.98 900.39,194.41 901.40,194.84 902.42,195.27 903.44,195.70 904.45,196.13 905.47,196.55 906.48,196.98 907.50,197.40" fill="none" stroke="#0a4e0a" stroke-width="3.2" stroke-linejoin="round" stroke-linecap="round"/>
<polyline points="732.78,91.51 733.79,92.63 734.81,93.73 735.82,94.81 736.84,95.88 737.86,96.93 738.87,97.96 739.89,98.98 740.90,99.99 741.92,100.98 742.94,101.95 743.95,102.92 744.97,103.87 745.98,104.81 747.00,105.74 748.01,106.65 749.03,107.56 750.05,108.46 751.06,109.35 752.08,110.22 753.09,111.09 754.11,111.95 755.13,112.80 756.14,113.64 757.16,114.48 758.17,115.30 759.19,116.12 760.20,116.93 761.22,117.73 762.24,118.53 763.25,119.32 764.27,120.10 765.28,120.87 766.30,121.64 767.32,122.41 768.33,123.16 769.35,123.91 770.36,124.66 771.38,125.40 772.39,126.13 773.41,126.86 774.43,127.58 775.44,128.30 776.46,129.01 777.47,129.72 778.49,130.42 779.51,131.12 780.52,131.81 781.54,132.50 782.55,133.19 783.57,133.87 784.58,134.54 785.60,135.21 786.62,135.88 787.63,136.54 788.65,137.20 789.66,137.85 790.68,138.50 791.70,139.15 792.71,139.80 793.73,140.43 794.74,141.07 795.76,141.70 796.77,142.33 797.79,142.96 798.81,143.58 799.82,144.20 800.84,144.81 801.85,145.43 802.87,146.03 803.89,146.64 804.90,147.24 805.92,147.84 806.93,148.44 807.95,149.03 808.96,149.62 809.98,150.21 811.00,150.80 812.01,151.38 813.03,151.96 814.04,152.54 815.06,153.11 816.08,153.68 817.09,154.25 818.11,154.82 819.12,155.38 820.14,155.94 821.15,156.50 822.17,157.06 823.19,157.61 824.20,158.16 825.22,158.71 826.23,159.26 827.25,159.81 828.26,160.35 829.28,160.89 830.30,161.43 831.31,161.96 832.33,162.50 833.34,163.03 834.36,163.56 835.38,164.09 836.39,164.61 837.41,165.14 838.42,165.66 839.44,166.18 840.46,166.70 841.47,167.21 842.49,167.73 843.50,168.24 844.52,168.75 845.53,169.26 846.55,169.76 847.57,170.27 848.58,170.77 849.60,171.27 850.61,171.77 851.63,172.27 852.64,172.76 853.66,173.26 854.68,173.75 855.69,174.24 856.71,174.73 857.72,175.22 858.74,175.71 859.76,176.19 860.77,176.67 861.79,177.15 862.80,177.63 863.82,178.11 864.84,178.59 865.85,179.06 866.87,179.54 867.88,180.01 868.90,180.48 869.91,180.95 870.93,181.42 871.95,181.88 872.96,182.35 873.98,182.81 874.99,183.27 876.01,183.74 877.03,184.19 878.04,184.65 879.06,185.11 880.07,185.57 881.09,186.02 882.10,186.47 883.12,186.92 884.14,187.37 885.15,187.82 886.17,188.27 887.18,188.72 888.20,189.16 889.22,189.61 890.23,190.05 891.25,190.49 892.26,190.93 893.28,191.37 894.29,191.81 895.31,192.25 896.33,192.68 897.34,193.12 898.36,193.55 899.37,193.98 900.39,194.41 901.40,194.84 902.42,195.27 903.44,195.70 904.45,196.13 905.47,196.55 906.48,196.98 907.50,197.40" fill="none" stroke="#109610" stroke-width="1.80" stroke-linejoin="round" stroke-linecap="round"/>
<circle cx="704.33" cy="28.20" r="1.30" fill="#1ccc1c" stroke="#0a500a" stroke-width="0.5"/>
<circle cx="705.35" cy="40.16" r="1.30" fill="#1ccc1c" stroke="#0a500a" stroke-width="0.5"/>
<circle cx="706.37" cy="45.12" r="1.30" fill="#1ccc1c" stroke="#0a500a" stroke-width="0.5"/>
<circle cx="707.38" cy="48.92" r="1.30" fill="#1ccc1c" stroke="#0a500a" stroke-width="0.5"/>
<circle cx="708.40" cy="52.13" r="1.30" fill="#1ccc1c" stroke="#0a500a" stroke-width="0.5"/>
<circle cx="709.41" cy="54.95" r="1.30" fill="#1ccc1c" stroke="#0a500a" stroke-width="0.5"/>
<circle cx="710.43" cy="57.51" r="1.30" fill="#1ccc1c" stroke="#0a500a" stroke-width="0.5"/>
<circle cx="711.44" cy="59.85" r="1.30" fill="#1ccc1c" stroke="#0a500a" stroke-width="0.5"/>
<circle cx="712.46" cy="62.04" r="1.30" fill="#1ccc1c" stroke="#0a500a" stroke-width="0.5"/>
<circle cx="713.48" cy="64.09" r="1.30" fill="#1ccc1c" stroke="#0a500a" stroke-width="0.5"/>
<circle cx="714.49" cy="66.03" r="1.30" fill="#1ccc1c" stroke="#0a500a" stroke-width="0.5"/>
<circle cx="715.51" cy="67.88" r="1.30" fill="#1ccc1c" stroke="#0a500a" stroke-width="0.5"/>
<circle cx="716.52" cy="69.65" r="1.30" fill="#1ccc1c" stroke="#0a500a" stroke-width="0.5"/>
<circle cx="717.54" cy="71.34" r="1.30" fill="#1ccc1c" stroke="#0a500a" stroke-width="0.5"/>
<circle cx="718.56" cy="72.97" r="1.30" fill="#1ccc1c" stroke="#0a500a" stroke-width="0.5"/>
<circle cx="719.57" cy="74.54" r="1.30" fill="#1ccc1c" stroke="#0a500a" stroke-width="0.5"/>
<circle cx="720.59" cy="76.06" r="1.30" fill="#1ccc1c" stroke="#0a500a" stroke-width="0.5"/>
<circle cx="721.60" cy="77.53" r="1.30" fill="#1ccc1c" stroke="#0a500a" stroke-width="0.5"/>
<circle cx="722.62" cy="78.96" r="1.30" fill="#1ccc1c" stroke="#0a500a" stroke-width="0.5"/>
<circle cx="723.63" cy="80.35" r="1.30" fill="#1ccc1c" stroke="#0a500a" stroke-width="0.5"/>
<circle cx="724.65" cy="81.71" r="1.30" fill="#1ccc1c" stroke="#0a500a" stroke-width="0.5"/>
<circle cx="725.67" cy="83.03" r="1.30" fill="#1ccc1c" stroke="#0a500a" stroke-width="0.5"/>
<circle cx="726.68" cy="84.32" r="1.30" fill="#1ccc1c" stroke="#0a500a" stroke-width="0.5"/>
<circle cx="727.70" cy="85.58" r="1.30" fill="#1ccc1c" stroke="#0a500a" stroke-width="0.5"/>
<circle cx="728.71" cy="86.81" r="1.30" fill="#1ccc1c" stroke="#0a500a" stroke-width="0.5"/>
<circle cx="729.73" cy="88.02" r="1.30" fill="#1ccc1c" stroke="#0a500a" stroke-width="0.5"/>
<circle cx="730.75" cy="89.21" r="1.30" fill="#1ccc1c" stroke="#0a500a" stroke-width="0.5"/>
<circle cx="731.76" cy="90.37" r="1.30" fill="#1ccc1c" stroke="#0a500a" stroke-width="0.5"/>
<circle cx="732.78" cy="91.51" r="1.30" fill="#1ccc1c" stroke="#0a500a" stroke-width="0.5"/>
</g>
<ellipse cx="423.80" cy="40.30" rx="0.9" ry="1.7" fill="#f03030" opacity="1"/>
<ellipse cx="424.20" cy="42.60" rx="0.9" ry="1.7" fill="#f03030" opacity="1"/>
<ellipse cx="426.00" cy="48.60" rx="0.9" ry="1.7" fill="#f03030" opacity="1"/>
<ellipse cx="437.40" cy="84.50" rx="0.9" ry="1.7" fill="#f03030" opacity="1"/>
<ellipse cx="438.30" cy="88.50" rx="0.9" ry="1.7" fill="#f03030" opacity="1"/>
<ellipse cx="460.50" cy="93.90" rx="0.9" ry="1.7" fill="#f03030" opacity="1"/>
<text class="t" x="422.60" y="207.00" text-anchor="middle" textLength="2.3" lengthAdjust="spacingAndGlyphs">0</text>
<text class="t" x="434.79" y="207.00" text-anchor="middle" textLength="5.5" lengthAdjust="spacingAndGlyphs">0.1</text>
<text class="t" x="446.98" y="207.00" text-anchor="middle" textLength="5.5" lengthAdjust="spacingAndGlyphs">0.2</text>
<text class="t" x="459.17" y="207.00" text-anchor="middle" textLength="5.5" lengthAdjust="spacingAndGlyphs">0.3</text>
<text class="t" x="471.36" y="207.00" text-anchor="middle" textLength="5.5" lengthAdjust="spacingAndGlyphs">0.4</text>
<text class="t" x="483.55" y="207.00" text-anchor="middle" textLength="5.5" lengthAdjust="spacingAndGlyphs">0.5</text>
<text class="t" x="495.74" y="207.00" text-anchor="middle" textLength="5.5" lengthAdjust="spacingAndGlyphs">0.6</text>
<text class="t" x="507.93" y="207.00" text-anchor="middle" textLength="5.5" lengthAdjust="spacingAndGlyphs">0.7</text>
<text class="t" x="520.12" y="207.00" text-anchor="middle" textLength="5.5" lengthAdjust="spacingAndGlyphs">0.8</text>
<text class="t" x="532.31" y="207.00" text-anchor="middle" textLength="5.5" lengthAdjust="spacingAndGlyphs">0.9</text>
<text class="t" x="544.50" y="207.00" text-anchor="middle" textLength="2.3" lengthAdjust="spacingAndGlyphs">1</text>
<text class="t" x="420.80" y="200.60" text-anchor="end" textLength="2.2" lengthAdjust="spacingAndGlyphs">0</text>
<text class="t" x="420.50" y="183.68" text-anchor="end" textLength="5.2" lengthAdjust="spacingAndGlyphs">0.1</text>
<text class="t" x="420.50" y="166.76" text-anchor="end" textLength="5.2" lengthAdjust="spacingAndGlyphs">0.2</text>
<text class="t" x="420.50" y="149.84" text-anchor="end" textLength="5.2" lengthAdjust="spacingAndGlyphs">0.3</text>
<text class="t" x="420.50" y="132.92" text-anchor="end" textLength="5.2" lengthAdjust="spacingAndGlyphs">0.4</text>
<text class="t" x="420.50" y="116.00" text-anchor="end" textLength="5.2" lengthAdjust="spacingAndGlyphs">0.5</text>
<text class="t" x="420.50" y="99.08" text-anchor="end" textLength="5.2" lengthAdjust="spacingAndGlyphs">0.6</text>
<text class="t" x="420.50" y="82.16" text-anchor="end" textLength="5.2" lengthAdjust="spacingAndGlyphs">0.7</text>
<text class="t" x="420.50" y="65.24" text-anchor="end" textLength="5.2" lengthAdjust="spacingAndGlyphs">0.8</text>
<text class="t" x="420.50" y="48.32" text-anchor="end" textLength="5.2" lengthAdjust="spacingAndGlyphs">0.9</text>
<text class="t" x="420.80" y="31.40" text-anchor="end" textLength="2.2" lengthAdjust="spacingAndGlyphs">1</text>
<text class="ti" x="483.55" y="25.10" text-anchor="middle" textLength="13.2" lengthAdjust="spacingAndGlyphs">MALO</text>
<text class="xl" x="483.55" y="216.60" text-anchor="middle" textLength="3.4" lengthAdjust="spacingAndGlyphs">f1</text>
<text class="xl" transform="translate(412.60,112.80) scale(0.6,1) rotate(-90)" text-anchor="middle">f2</text>
<rect x="509.40" y="33.40" width="32.40" height="18.00" fill="#fff" stroke="#868686" stroke-width="0.8"/>
<ellipse cx="516.30" cy="38.40" rx="0.85" ry="1.25" fill="#1cc81c" stroke="#0a6a0a" stroke-width="0.3"/>
<ellipse cx="516.30" cy="46.80" rx="0.85" ry="1.4" fill="#f03030"/>
<text class="lg" x="523.00" y="40.90" textLength="10.6" lengthAdjust="spacingAndGlyphs">true PF</text>
<text class="lg" x="523.00" y="49.10" textLength="17.9" lengthAdjust="spacingAndGlyphs">obtained PF</text>
<text class="lab" x="491.80" y="237.2" text-anchor="middle">(d)</text>
<line x1="567.89" y1="29.50" x2="567.89" y2="197.30" stroke="#efefef" stroke-width="0.8"/>
<line x1="580.28" y1="29.50" x2="580.28" y2="197.30" stroke="#efefef" stroke-width="0.8"/>
<line x1="592.67" y1="29.50" x2="592.67" y2="197.30" stroke="#efefef" stroke-width="0.8"/>
<line x1="605.06" y1="29.50" x2="605.06" y2="197.30" stroke="#efefef" stroke-width="0.8"/>
<line x1="617.45" y1="29.50" x2="617.45" y2="197.30" stroke="#efefef" stroke-width="0.8"/>
<line x1="629.84" y1="29.50" x2="629.84" y2="197.30" stroke="#efefef" stroke-width="0.8"/>
<line x1="642.23" y1="29.50" x2="642.23" y2="197.30" stroke="#efefef" stroke-width="0.8"/>
<line x1="654.62" y1="29.50" x2="654.62" y2="197.30" stroke="#efefef" stroke-width="0.8"/>
<line x1="667.01" y1="29.50" x2="667.01" y2="197.30" stroke="#efefef" stroke-width="0.8"/>
<line x1="555.50" y1="173.33" x2="679.40" y2="173.33" stroke="#efefef" stroke-width="0.8"/>
<line x1="555.50" y1="149.36" x2="679.40" y2="149.36" stroke="#efefef" stroke-width="0.8"/>
<line x1="555.50" y1="125.39" x2="679.40" y2="125.39" stroke="#efefef" stroke-width="0.8"/>
<line x1="555.50" y1="101.41" x2="679.40" y2="101.41" stroke="#efefef" stroke-width="0.8"/>
<line x1="555.50" y1="77.44" x2="679.40" y2="77.44" stroke="#efefef" stroke-width="0.8"/>
<line x1="555.50" y1="53.47" x2="679.40" y2="53.47" stroke="#efefef" stroke-width="0.8"/>
<rect x="555.50" y="29.50" width="123.90" height="167.80" fill="none" stroke="#868686" stroke-width="1"/>
<path d="M555.50 197.30V195.50M555.50 29.50V31.30M567.89 197.30V195.50M567.89 29.50V31.30M580.28 197.30V195.50M580.28 29.50V31.30M592.67 197.30V195.50M592.67 29.50V31.30M605.06 197.30V195.50M605.06 29.50V31.30M617.45 197.30V195.50M617.45 29.50V31.30M629.84 197.30V195.50M629.84 29.50V31.30M642.23 197.30V195.50M642.23 29.50V31.30M654.62 197.30V195.50M654.62 29.50V31.30M667.01 197.30V195.50M667.01 29.50V31.30M679.40 197.30V195.50M679.40 29.50V31.30M555.50 197.30H557.30M679.40 197.30H677.60M555.50 173.33H557.30M679.40 173.33H677.60M555.50 149.36H557.30M679.40 149.36H677.60M555.50 125.39H557.30M679.40 125.39H677.60M555.50 101.41H557.30M679.40 101.41H677.60M555.50 77.44H557.30M679.40 77.44H677.60M555.50 53.47H557.30M679.40 53.47H677.60M555.50 29.50H557.30M679.40 29.50H677.60" stroke="#868686" stroke-width="0.8" fill="none"/>
<g transform="scale(0.6,1)">
<polyline points="954.74,182.30 955.78,182.46 956.81,182.61 957.84,182.77 958.87,182.92 959.91,183.07 960.94,183.21 961.97,183.36 963.00,183.50 964.04,183.64 965.07,183.78 966.10,183.91 967.13,184.05 968.17,184.18 969.20,184.31 970.23,184.44 971.26,184.57 972.30,184.70 973.33,184.82 974.36,184.95 975.39,185.07 976.43,185.19 977.46,185.31 978.49,185.43 979.52,185.55 980.56,185.67 981.59,185.78 982.62,185.90 983.65,186.01 984.69,186.13 985.72,186.24 986.75,186.35 987.78,186.46 988.82,186.57 989.85,186.68 990.88,186.78 991.91,186.89 992.95,186.99 993.98,187.10 995.01,187.20 996.04,187.31 997.08,187.41 998.11,187.51 999.14,187.61 1000.17,187.71 1001.21,187.81 1002.24,187.91 1003.27,188.01 1004.30,188.11 1005.34,188.20 1006.37,188.30 1007.40,188.39 1008.43,188.49 1009.47,188.58 1010.50,188.68 1011.53,188.77 1012.56,188.86 1013.60,188.96 1014.63,189.05 1015.66,189.14 1016.69,189.23 1017.73,189.32 1018.76,189.41 1019.79,189.50 1020.82,189.59 1021.86,189.67 1022.89,189.76 1023.92,189.85 1024.95,189.94 1025.99,190.02 1027.02,190.11 1028.05,190.19 1029.08,190.28 1030.12,190.36 1031.15,190.45 1032.18,190.53 1033.21,190.61 1034.25,190.70 1035.28,190.78 1036.31,190.86 1037.34,190.94 1038.38,191.03 1039.41,191.11 1040.44,191.19 1041.47,191.27 1042.51,191.35 1043.54,191.43 1044.57,191.51 1045.60,191.58 1046.64,191.66 1047.67,191.74 1048.70,191.82 1049.73,191.90 1050.77,191.97 1051.80,192.05 1052.83,192.13 1053.86,192.20 1054.90,192.28 1055.93,192.36 1056.96,192.43 1057.99,192.51 1059.03,192.58 1060.06,192.65 1061.09,192.73 1062.12,192.80 1063.16,192.88 1064.19,192.95 1065.22,193.02 1066.25,193.10 1067.29,193.17 1068.32,193.24 1069.35,193.31 1070.38,193.38 1071.42,193.46 1072.45,193.53 1073.48,193.60 1074.51,193.67 1075.55,193.74 1076.58,193.81 1077.61,193.88 1078.64,193.95 1079.68,194.02 1080.71,194.09 1081.74,194.16 1082.77,194.23 1083.81,194.30 1084.84,194.36 1085.87,194.43 1086.90,194.50 1087.94,194.57 1088.97,194.63 1090.00,194.70 1091.03,194.77 1092.07,194.84 1093.10,194.90 1094.13,194.97 1095.16,195.04 1096.20,195.10 1097.23,195.17 1098.26,195.23 1099.29,195.30 1100.33,195.36 1101.36,195.43 1102.39,195.49 1103.42,195.56 1104.46,195.62 1105.49,195.69 1106.52,195.75 1107.55,195.82 1108.59,195.88 1109.62,195.94 1110.65,196.01 1111.68,196.07 1112.72,196.13 1113.75,196.20 1114.78,196.26 1115.81,196.32 1116.85,196.38 1117.88,196.45 1118.91,196.51 1119.94,196.57 1120.98,196.63 1122.01,196.69 1123.04,196.75 1124.07,196.82 1125.11,196.88 1126.14,196.94 1127.17,197.00 1128.20,197.06 1129.24,197.12 1130.27,197.18 1131.30,197.24 1132.33,197.30" fill="none" stroke="#0a4e0a" stroke-width="3.2" stroke-linejoin="round" stroke-linecap="round"/>
<polyline points="954.74,182.30 955.78,182.46 956.81,182.61 957.84,182.77 958.87,182.92 959.91,183.07 960.94,183.21 961.97,183.36 963.00,183.50 964.04,183.64 965.07,183.78 966.10,183.91 967.13,184.05 968.17,184.18 969.20,184.31 970.23,184.44 971.26,184.57 972.30,184.70 973.33,184.82 974.36,184.95 975.39,185.07 976.43,185.19 977.46,185.31 978.49,185.43 979.52,185.55 980.56,185.67 981.59,185.78 982.62,185.90 983.65,186.01 984.69,186.13 985.72,186.24 986.75,186.35 987.78,186.46 988.82,186.57 989.85,186.68 990.88,186.78 991.91,186.89 992.95,186.99 993.98,187.10 995.01,187.20 996.04,187.31 997.08,187.41 998.11,187.51 999.14,187.61 1000.17,187.71 1001.21,187.81 1002.24,187.91 1003.27,188.01 1004.30,188.11 1005.34,188.20 1006.37,188.30 1007.40,188.39 1008.43,188.49 1009.47,188.58 1010.50,188.68 1011.53,188.77 1012.56,188.86 1013.60,188.96 1014.63,189.05 1015.66,189.14 1016.69,189.23 1017.73,189.32 1018.76,189.41 1019.79,189.50 1020.82,189.59 1021.86,189.67 1022.89,189.76 1023.92,189.85 1024.95,189.94 1025.99,190.02 1027.02,190.11 1028.05,190.19 1029.08,190.28 1030.12,190.36 1031.15,190.45 1032.18,190.53 1033.21,190.61 1034.25,190.70 1035.28,190.78 1036.31,190.86 1037.34,190.94 1038.38,191.03 1039.41,191.11 1040.44,191.19 1041.47,191.27 1042.51,191.35 1043.54,191.43 1044.57,191.51 1045.60,191.58 1046.64,191.66 1047.67,191.74 1048.70,191.82 1049.73,191.90 1050.77,191.97 1051.80,192.05 1052.83,192.13 1053.86,192.20 1054.90,192.28 1055.93,192.36 1056.96,192.43 1057.99,192.51 1059.03,192.58 1060.06,192.65 1061.09,192.73 1062.12,192.80 1063.16,192.88 1064.19,192.95 1065.22,193.02 1066.25,193.10 1067.29,193.17 1068.32,193.24 1069.35,193.31 1070.38,193.38 1071.42,193.46 1072.45,193.53 1073.48,193.60 1074.51,193.67 1075.55,193.74 1076.58,193.81 1077.61,193.88 1078.64,193.95 1079.68,194.02 1080.71,194.09 1081.74,194.16 1082.77,194.23 1083.81,194.30 1084.84,194.36 1085.87,194.43 1086.90,194.50 1087.94,194.57 1088.97,194.63 1090.00,194.70 1091.03,194.77 1092.07,194.84 1093.10,194.90 1094.13,194.97 1095.16,195.04 1096.20,195.10 1097.23,195.17 1098.26,195.23 1099.29,195.30 1100.33,195.36 1101.36,195.43 1102.39,195.49 1103.42,195.56 1104.46,195.62 1105.49,195.69 1106.52,195.75 1107.55,195.82 1108.59,195.88 1109.62,195.94 1110.65,196.01 1111.68,196.07 1112.72,196.13 1113.75,196.20 1114.78,196.26 1115.81,196.32 1116.85,196.38 1117.88,196.45 1118.91,196.51 1119.94,196.57 1120.98,196.63 1122.01,196.69 1123.04,196.75 1124.07,196.82 1125.11,196.88 1126.14,196.94 1127.17,197.00 1128.20,197.06 1129.24,197.12 1130.27,197.18 1131.30,197.24 1132.33,197.30" fill="none" stroke="#109610" stroke-width="1.80" stroke-linejoin="round" stroke-linecap="round"/>
<circle cx="925.83" cy="173.33" r="1.30" fill="#1ccc1c" stroke="#0a500a" stroke-width="0.5"/>
<circle cx="926.87" cy="175.02" r="1.30" fill="#1ccc1c" stroke="#0a500a" stroke-width="0.5"/>
<circle cx="927.90" cy="175.73" r="1.30" fill="#1ccc1c" stroke="#0a500a" stroke-width="0.5"/>
<circle cx="928.93" cy="176.26" r="1.30" fill="#1ccc1c" stroke="#0a500a" stroke-width="0.5"/>
<circle cx="929.96" cy="176.72" r="1.30" fill="#1ccc1c" stroke="#0a500a" stroke-width="0.5"/>
<circle cx="931.00" cy="177.12" r="1.30" fill="#1ccc1c" stroke="#0a500a" stroke-width="0.5"/>
<circle cx="932.03" cy="177.48" r="1.30" fill="#1ccc1c" stroke="#0a500a" stroke-width="0.5"/>
<circle cx="933.06" cy="177.81" r="1.30" fill="#1ccc1c" stroke="#0a500a" stroke-width="0.5"/>
<circle cx="934.09" cy="178.12" r="1.30" fill="#1ccc1c" stroke="#0a500a" stroke-width="0.5"/>
<circle cx="935.13" cy="178.41" r="1.30" fill="#1ccc1c" stroke="#0a500a" stroke-width="0.5"/>
<circle cx="936.16" cy="178.69" r="1.30" fill="#1ccc1c" stroke="#0a500a" stroke-width="0.5"/>
<circle cx="937.19" cy="178.95" r="1.30" fill="#1ccc1c" stroke="#0a500a" stroke-width="0.5"/>
<circle cx="938.22" cy="179.20" r="1.30" fill="#1ccc1c" stroke="#0a500a" stroke-width="0.5"/>
<circle cx="939.26" cy="179.44" r="1.30" fill="#1ccc1c" stroke="#0a500a" stroke-width="0.5"/>
<circle cx="940.29" cy="179.67" r="1.30" fill="#1ccc1c" stroke="#0a500a" stroke-width="0.5"/>
<circle cx="941.32" cy="179.89" r="1.30" fill="#1ccc1c" stroke="#0a500a" stroke-width="0.5"/>
<circle cx="942.35" cy="180.11" r="1.30" fill="#1ccc1c" stroke="#0a500a" stroke-width="0.5"/>
<circle cx="943.39" cy="180.32" r="1.30" fill="#1ccc1c" stroke="#0a500a" stroke-width="0.5"/>
<circle cx="944.42" cy="180.52" r="1.30" fill="#1ccc1c" stroke="#0a500a" stroke-width="0.5"/>
<circle cx="945.45" cy="180.72" r="1.30" fill="#1ccc1c" stroke="#0a500a" stroke-width="0.5"/>
<circle cx="946.48" cy="180.91" r="1.30" fill="#1ccc1c" stroke="#0a500a" stroke-width="0.5"/>
<circle cx="947.52" cy="181.10" r="1.30" fill="#1ccc1c" stroke="#0a500a" stroke-width="0.5"/>
<circle cx="948.55" cy="181.28" r="1.30" fill="#1ccc1c" stroke="#0a500a" stroke-width="0.5"/>
<circle cx="949.58" cy="181.46" r="1.30" fill="#1ccc1c" stroke="#0a500a" stroke-width="0.5"/>
<circle cx="950.61" cy="181.63" r="1.30" fill="#1ccc1c" stroke="#0a500a" stroke-width="0.5"/>
<circle cx="951.65" cy="181.80" r="1.30" fill="#1ccc1c" stroke="#0a500a" stroke-width="0.5"/>
<circle cx="952.68" cy="181.97" r="1.30" fill="#1ccc1c" stroke="#0a500a" stroke-width="0.5"/>
<circle cx="953.71" cy="182.14" r="1.30" fill="#1ccc1c" stroke="#0a500a" stroke-width="0.5"/>
<circle cx="954.74" cy="182.30" r="1.30" fill="#1ccc1c" stroke="#0a500a" stroke-width="0.5"/>
</g>
<ellipse cx="556.30" cy="32.70" rx="0.9" ry="1.7" fill="#f03030" opacity="1"/>
<ellipse cx="558.90" cy="140.30" rx="0.9" ry="1.7" fill="#f03030" opacity="1"/>
<ellipse cx="568.50" cy="152.50" rx="0.9" ry="1.7" fill="#f03030" opacity="1"/>
<ellipse cx="568.60" cy="156.60" rx="0.9" ry="1.7" fill="#f03030" opacity="0.45"/>
<ellipse cx="568.70" cy="160.70" rx="0.9" ry="1.7" fill="#f03030" opacity="1"/>
<ellipse cx="568.80" cy="164.00" rx="0.9" ry="1.7" fill="#f03030" opacity="0.45"/>
<ellipse cx="568.80" cy="167.30" rx="0.9" ry="1.7" fill="#f03030" opacity="1"/>
<ellipse cx="568.90" cy="170.60" rx="0.9" ry="1.7" fill="#f03030" opacity="0.45"/>
<ellipse cx="568.90" cy="174.00" rx="0.9" ry="1.7" fill="#f03030" opacity="1"/>
<ellipse cx="569.30" cy="178.10" rx="0.9" ry="1.7" fill="#f03030" opacity="1"/>
<ellipse cx="571.90" cy="182.20" rx="0.9" ry="1.7" fill="#f03030" opacity="1"/>
<ellipse cx="576.60" cy="183.20" rx="0.9" ry="1.7" fill="#f03030" opacity="1"/>
<ellipse cx="582.40" cy="184.60" rx="0.9" ry="1.7" fill="#f03030" opacity="1"/>
<ellipse cx="588.40" cy="186.00" rx="0.9" ry="1.7" fill="#f03030" opacity="1"/>
<ellipse cx="592.50" cy="186.60" rx="0.9" ry="1.7" fill="#f03030" opacity="1"/>
<ellipse cx="632.10" cy="187.10" rx="0.9" ry="1.7" fill="#f03030" opacity="1"/>
<ellipse cx="635.60" cy="191.20" rx="0.9" ry="1.7" fill="#f03030" opacity="1"/>
<ellipse cx="656.90" cy="191.20" rx="0.9" ry="1.7" fill="#f03030" opacity="1"/>
<ellipse cx="658.80" cy="194.50" rx="0.9" ry="1.7" fill="#f03030" opacity="1"/>
<text class="t" x="555.50" y="206.90" text-anchor="middle" textLength="2.3" lengthAdjust="spacingAndGlyphs">0</text>
<text class="t" x="567.89" y="206.90" text-anchor="middle" textLength="5.5" lengthAdjust="spacingAndGlyphs">0.1</text>
<text class="t" x="580.28" y="206.90" text-anchor="middle" textLength="5.5" lengthAdjust="spacingAndGlyphs">0.2</text>
<text class="t" x="592.67" y="206.90" text-anchor="middle" textLength="5.5" lengthAdjust="spacingAndGlyphs">0.3</text>
<text class="t" x="605.06" y="206.90" text-anchor="middle" textLength="5.5" lengthAdjust="spacingAndGlyphs">0.4</text>
<text class="t" x="617.45" y="206.90" text-anchor="middle" textLength="5.5" lengthAdjust="spacingAndGlyphs">0.5</text>
<text class="t" x="629.84" y="206.90" text-anchor="middle" textLength="5.5" lengthAdjust="spacingAndGlyphs">0.6</text>
<text class="t" x="642.23" y="206.90" text-anchor="middle" textLength="5.5" lengthAdjust="spacingAndGlyphs">0.7</text>
<text class="t" x="654.62" y="206.90" text-anchor="middle" textLength="5.5" lengthAdjust="spacingAndGlyphs">0.8</text>
<text class="t" x="667.01" y="206.90" text-anchor="middle" textLength="5.5" lengthAdjust="spacingAndGlyphs">0.9</text>
<text class="t" x="679.40" y="206.90" text-anchor="middle" textLength="2.3" lengthAdjust="spacingAndGlyphs">1</text>
<text class="t" x="553.70" y="200.50" text-anchor="end" textLength="2.2" lengthAdjust="spacingAndGlyphs">0</text>
<text class="t" x="553.70" y="176.53" text-anchor="end" textLength="2.2" lengthAdjust="spacingAndGlyphs">1</text>
<text class="t" x="553.70" y="152.56" text-anchor="end" textLength="2.2" lengthAdjust="spacingAndGlyphs">2</text>
<text class="t" x="553.70" y="128.59" text-anchor="end" textLength="2.2" lengthAdjust="spacingAndGlyphs">3</text>
<text class="t" x="553.70" y="104.61" text-anchor="end" textLength="2.2" lengthAdjust="spacingAndGlyphs">4</text>
<text class="t" x="553.70" y="80.64" text-anchor="end" textLength="2.2" lengthAdjust="spacingAndGlyphs">5</text>
<text class="t" x="553.70" y="56.67" text-anchor="end" textLength="2.2" lengthAdjust="spacingAndGlyphs">6</text>
<text class="t" x="553.70" y="32.70" text-anchor="end" textLength="2.2" lengthAdjust="spacingAndGlyphs">7</text>
<text class="ti" x="617.45" y="26.40" text-anchor="middle" textLength="12.3" lengthAdjust="spacingAndGlyphs">MSSA</text>
<text class="xl" x="617.45" y="216.50" text-anchor="middle" textLength="3.4" lengthAdjust="spacingAndGlyphs">f1</text>
<text class="xl" transform="translate(550.30,113.40) scale(0.6,1) rotate(-90)" text-anchor="middle">f2</text>
<rect x="643.20" y="34.40" width="33.40" height="18.20" fill="#fff" stroke="#868686" stroke-width="0.8"/>
<ellipse cx="650.10" cy="39.40" rx="0.85" ry="1.25" fill="#1cc81c" stroke="#0a6a0a" stroke-width="0.3"/>
<ellipse cx="650.10" cy="47.80" rx="0.85" ry="1.4" fill="#f03030"/>
<text class="lg" x="656.80" y="41.90" textLength="10.6" lengthAdjust="spacingAndGlyphs">true PF</text>
<text class="lg" x="656.80" y="50.10" textLength="17.9" lengthAdjust="spacingAndGlyphs">obtained PF</text>
<text class="lab" x="617.20" y="237.2" text-anchor="middle">(e)</text>
</svg>
</body></html>
